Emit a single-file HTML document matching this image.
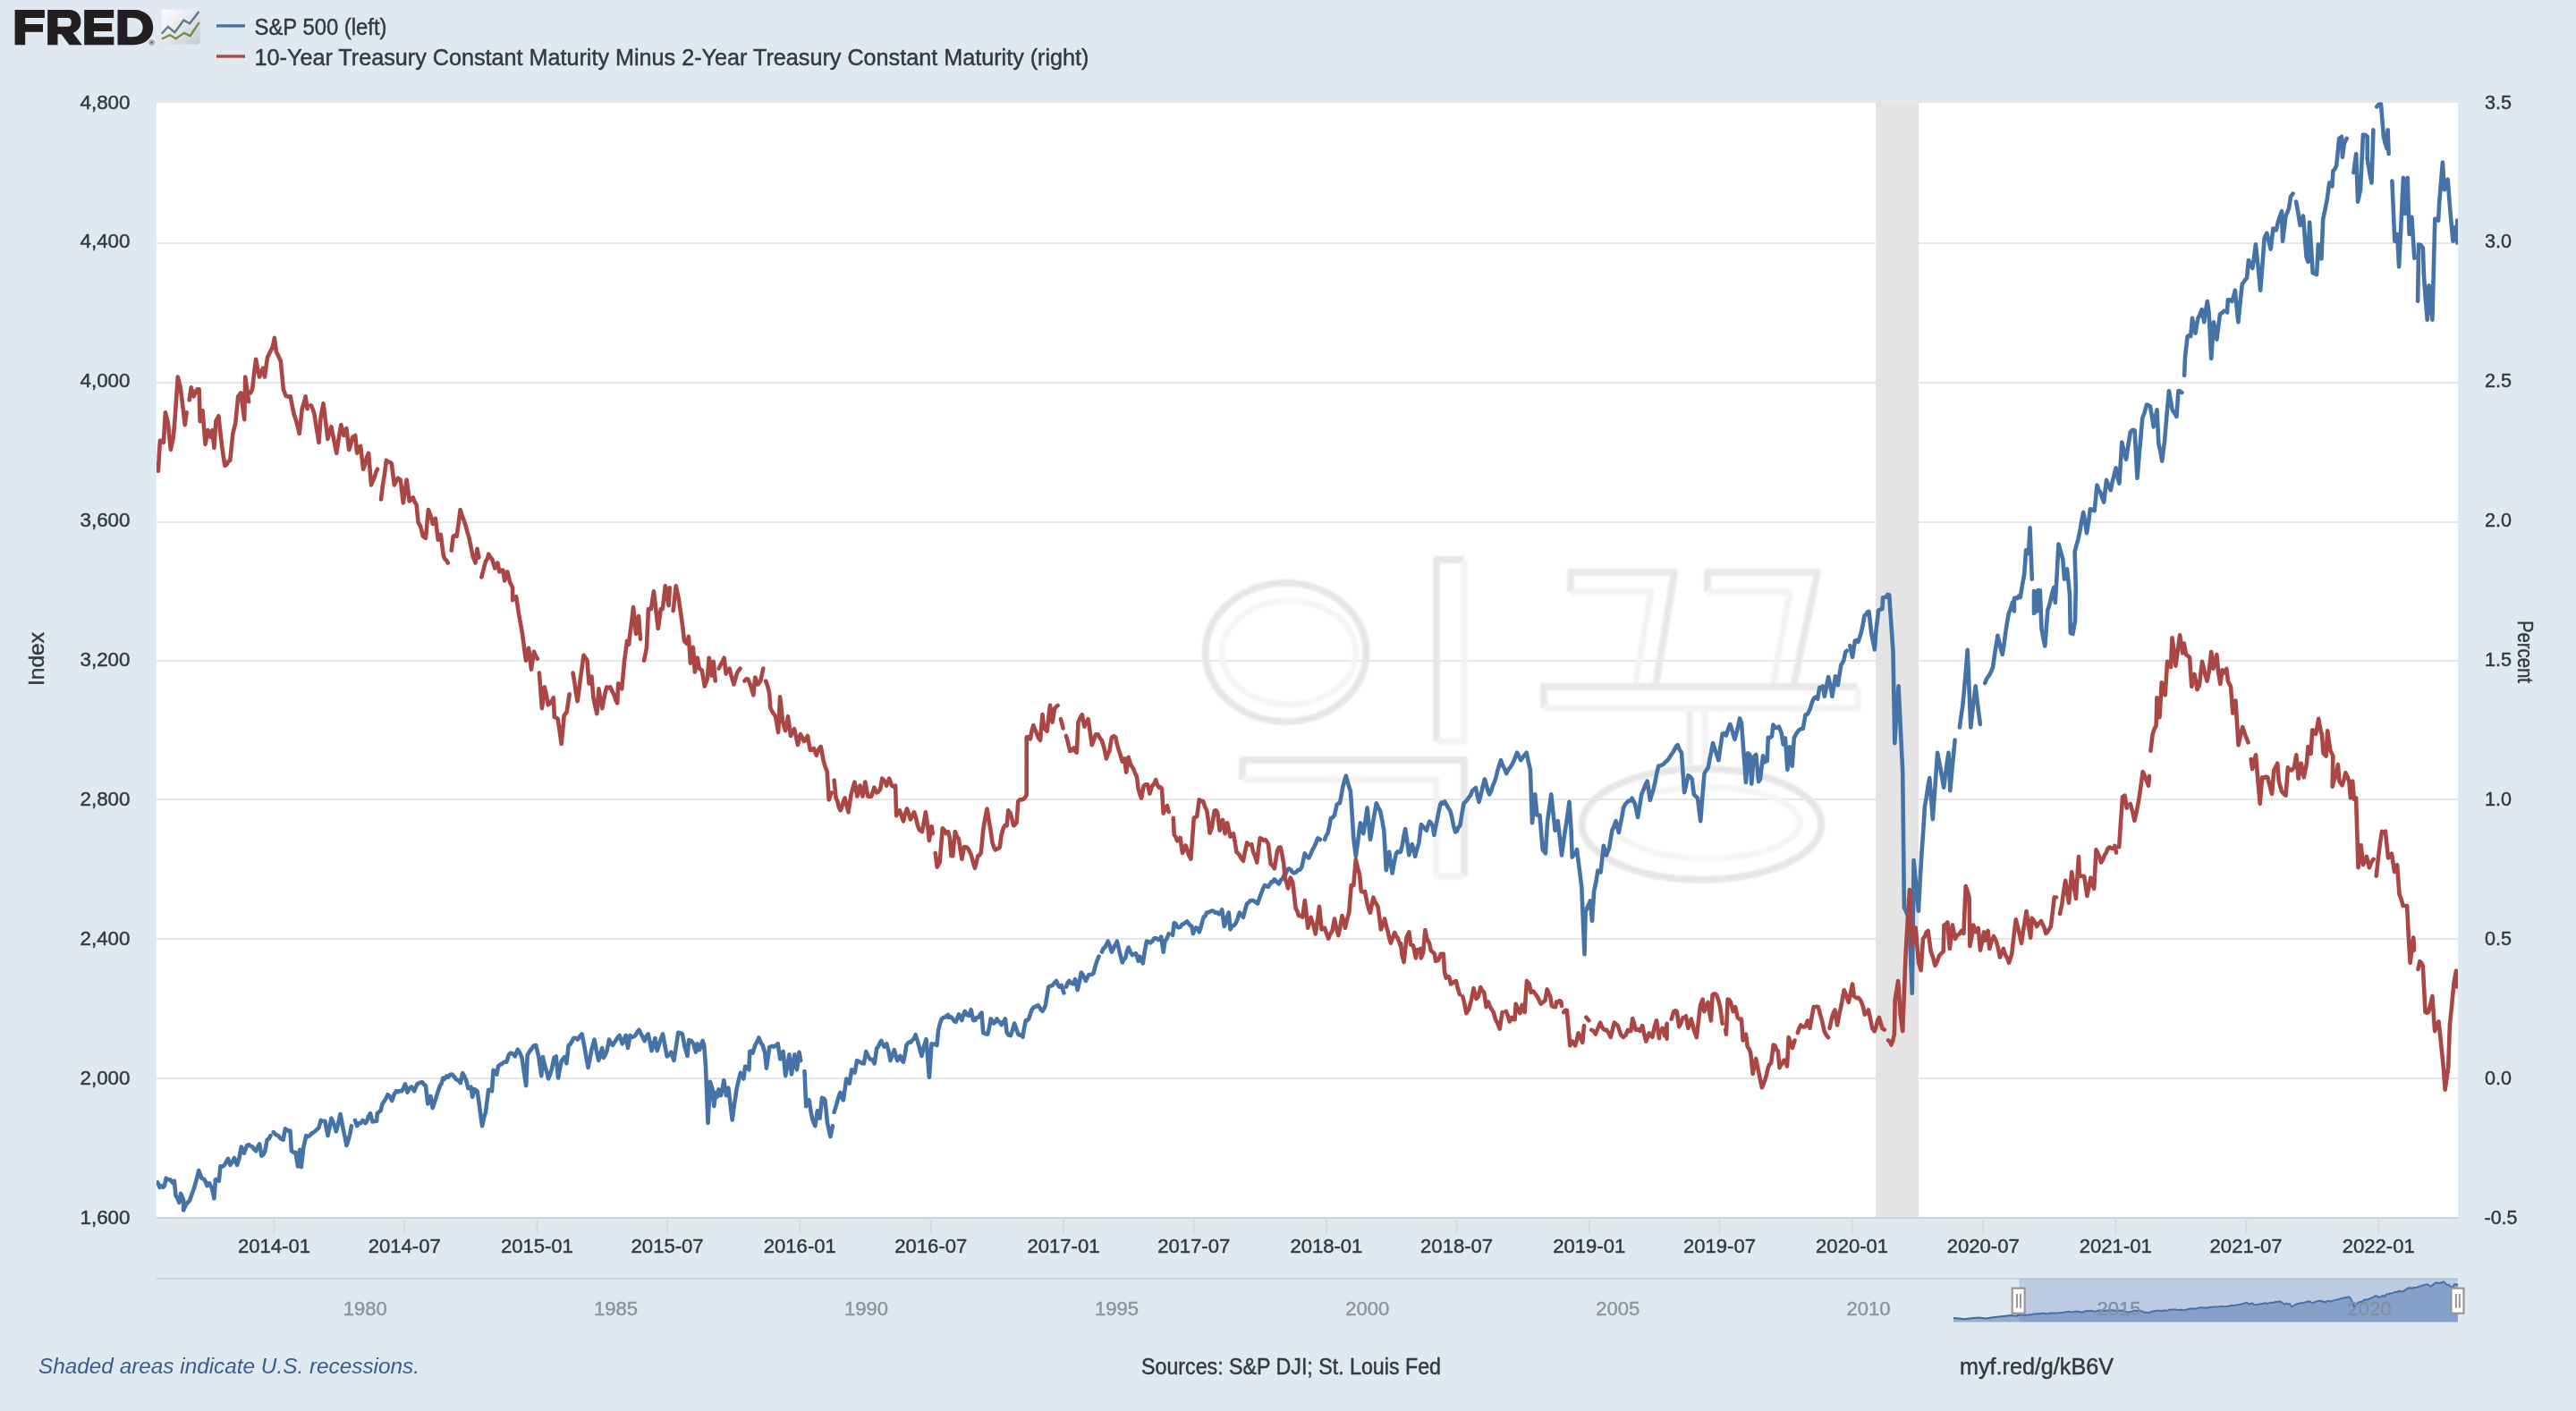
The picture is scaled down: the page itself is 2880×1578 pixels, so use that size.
<!DOCTYPE html><html><head><meta charset="utf-8"><style>html,body{margin:0;padding:0;background:#e1e9f0;width:2880px;height:1578px;overflow:hidden}svg{display:block;will-change:transform} #wrap{width:2880px;height:1578px}text{font-family:"Liberation Sans",sans-serif}</style></head><body>
<div id="wrap">
<svg width="2880" height="1578" viewBox="0 0 2880 1578">
<rect x="0" y="0" width="2880" height="1578" fill="#e1e9f0"/>
<rect x="175" y="114" width="2573" height="1248" fill="#ffffff"/>
<rect x="2097" y="114" width="48" height="1248" fill="#e4e4e4"/>
<rect x="175" y="113" width="2573" height="2" fill="#e6e6e6"/>
<rect x="175" y="271" width="2573" height="2" fill="#e6e6e6"/>
<rect x="175" y="427" width="2573" height="2" fill="#e6e6e6"/>
<rect x="175" y="583" width="2573" height="2" fill="#e6e6e6"/>
<rect x="175" y="738" width="2573" height="2" fill="#e6e6e6"/>
<rect x="175" y="893" width="2573" height="2" fill="#e6e6e6"/>
<rect x="175" y="1049" width="2573" height="2" fill="#e6e6e6"/>
<rect x="175" y="1205" width="2573" height="2" fill="#e6e6e6"/>
<defs><filter id="wmb" x="-5%" y="-5%" width="110%" height="110%"><feGaussianBlur stdDeviation="1.3"/></filter></defs>
<g fill="none" stroke-linejoin="round" filter="url(#wmb)">
<ellipse cx="1437.6" cy="729.5" rx="90" ry="77.5" stroke="#e6e6e6" stroke-width="8"/>
<ellipse cx="1441" cy="729.8" rx="75" ry="58" stroke="#f5f5f5" stroke-width="7"/>
<path d="M1606,829 V626 H1637" stroke="#e6e6e6" stroke-width="8"/>
<path d="M1637,626 V829 H1606" stroke="#f3f3f3" stroke-width="7"/>
<path d="M1389,872 V850 H1637 V980" stroke="#e8e8e8" stroke-width="8"/>
<path d="M1637,980 H1606 V872 H1389" stroke="#f3f3f3" stroke-width="7"/>
<path d="M1756,662 V640 H1872 L1851,767" stroke="#e8e8e8" stroke-width="8"/>
<path d="M1851,767 H1828 L1846,662 H1756" stroke="#f3f3f3" stroke-width="7"/>
<path d="M1909,662 V640 H2032 L2005,767" stroke="#e8e8e8" stroke-width="8"/>
<path d="M2005,767 H1982 L2001,662 H1909" stroke="#f3f3f3" stroke-width="7"/>
<path d="M1726,792 V768 H2077" stroke="#e8e8e8" stroke-width="8"/>
<path d="M2077,768 V792 H1726" stroke="#f3f3f3" stroke-width="7"/>
<path d="M1889,855 V796" stroke="#ececec" stroke-width="7"/>
<path d="M1906,796 V855" stroke="#f3f3f3" stroke-width="7"/>
<ellipse cx="1902.5" cy="921.8" rx="134" ry="62" stroke="#e6e6e6" stroke-width="8"/>
<ellipse cx="1908.4" cy="920.3" rx="104" ry="40" stroke="#f5f5f5" stroke-width="7"/>
</g>

<g clip-path="url(#pc)"><clipPath id="pc"><rect x="175" y="112" width="2573" height="1252"/></clipPath><path d="M176.2,1322.3 L178.6,1327.8 L180.4,1326.1 L182.2,1327.8 L184.0,1326.2 L185.6,1317.6 L187.9,1319.2 L190.3,1319.2 L193.4,1323.1 L194.9,1320.7 L196.5,1337.1 L198.5,1340.3 L200.4,1344.9 L202.0,1334.8 L205.1,1341.8 L205.1,1353.5 L208.2,1346.5 L210.2,1344.5 L212.1,1342.6 L214.4,1335.8 L216.8,1329.3 L218.6,1323.0 L220.4,1316.7 L222.2,1309.1 L225.4,1317.6 L227.7,1318.4 L229.6,1321.1 L231.6,1326.2 L233.9,1323.1 L237.1,1329.3 L239.4,1340.2 L240.9,1319.2 L242.9,1318.6 L244.8,1320.7 L246.4,1304.4 L248.7,1304.6 L251.1,1302.8 L253.0,1299.1 L255.0,1295.8 L257.3,1302.8 L259.7,1299.7 L262.0,1295.0 L265.1,1302.8 L267.5,1295.0 L269.8,1282.5 L272.9,1289.6 L276.0,1281.0 L278.1,1280.0 L280.2,1281.9 L282.3,1282.5 L284.2,1285.5 L286.2,1287.2 L288.1,1282.5 L290.1,1279.4 L292.4,1292.7 L294.4,1291.3 L296.3,1287.2 L298.6,1274.7 L300.6,1273.6 L302.5,1270.1 M305.7,1266.2 L308.8,1269.3 L311.1,1270.1 L313.5,1273.2 L316.6,1274.7 L318.9,1262.3 L322.0,1264.6 L324.4,1264.6 L325.9,1287.2 L328.3,1289.0 L330.6,1288.8 L333.0,1304.4 L335.3,1285.7 L336.8,1305.2 L339.2,1284.1 L342.3,1270.1 L344.3,1270.9 L346.2,1270.1 L348.5,1267.4 L350.9,1266.2 L352.7,1264.6 L354.5,1262.9 L356.3,1261.5 L358.7,1252.9 L361.0,1253.8 L363.4,1253.7 L366.5,1270.1 L368.4,1261.2 L370.4,1250.6 L372.2,1254.3 L374.0,1259.0 L375.8,1265.4 L378.2,1256.7 L380.5,1245.9 L383.6,1262.3 L385.6,1271.4 L387.5,1281.0 L389.5,1275.1 L391.4,1267.7 L393.0,1259.2 M396.9,1252.9 L399.2,1259.2 L401.3,1256.0 L403.4,1256.0 L405.5,1252.9 L408.6,1256.0 L410.4,1253.2 L412.2,1248.0 L414.0,1245.1 L416.4,1254.5 L418.7,1254.1 L421.1,1253.7 L421.8,1245.1 L423.8,1243.4 L425.7,1242.0 L427.3,1235.0 L429.4,1231.8 L431.4,1228.6 L433.5,1224.1 L435.9,1226.4 L438.2,1231.1 L440.5,1224.2 L442.9,1220.2 L445.0,1221.2 L447.0,1220.0 L449.1,1220.2 L451.1,1217.1 L453.0,1212.4 L455.4,1221.7 L457.7,1217.1 L460.0,1215.5 L463.2,1220.2 L466.3,1212.4 L468.1,1211.4 L470.0,1210.8 L472.0,1210.2 L474.0,1212.8 L475.9,1214.1 L478.3,1234.4 L481.4,1225.8 L483.7,1239.1 L486.8,1229.7 L489.9,1220.3 L491.8,1214.6 L493.6,1211.8 L495.4,1205.5 L497.2,1206.5 L499.0,1203.6 L500.9,1204.7 L503.2,1201.8 L505.5,1201.6 L507.6,1203.8 L509.7,1207.1 L511.8,1207.9 L514.9,1211.0 L517.2,1200.1 L519.2,1203.6 L521.1,1207.9 L523.5,1217.2 L526.6,1215.7 L528.2,1226.6 L530.5,1218.0 L533.6,1220.3 L535.4,1232.5 L537.2,1246.1 L539.1,1259.3 L541.0,1250.1 L543.0,1243.7 L546.1,1218.8 L548.0,1218.7 L550.0,1220.3 L551.5,1196.9 L553.5,1199.1 L555.4,1201.6 L557.0,1192.3 L559.3,1190.7 L561.7,1189.2 L564.0,1187.6 L566.4,1187.6 L568.7,1179.8 L571.0,1177.5 L573.4,1178.6 L575.7,1181.4 L578.8,1173.6 L581.2,1177.4 L583.5,1182.9 L585.8,1198.4 L588.2,1214.1 L589.7,1179.8 L592.1,1175.7 L594.4,1172.8 L596.8,1169.4 L599.1,1168.9 L602.2,1181.4 L605.3,1203.2 L606.9,1182.1 L609.0,1191.2 L611.1,1198.4 L613.1,1206.3 L615.1,1201.3 L617.0,1195.4 L619.4,1182.9 L621.7,1181.4 L624.1,1205.5 L626.0,1194.8 L628.0,1186.0 L631.1,1182.1 L633.4,1189.2 L635.7,1168.9 L637.6,1167.8 L639.4,1164.8 L641.2,1161.1 L643.5,1160.7 L645.9,1162.6 L648.2,1159.0 L650.6,1156.4 L653.7,1172.0 L655.6,1183.6 L657.6,1193.8 L659.5,1184.3 L661.5,1173.6 L664.6,1162.6 L666.9,1175.6 L669.3,1186.0 L671.2,1178.8 L673.2,1172.0 L674.7,1182.9 L676.7,1180.0 L678.6,1175.1 L681.0,1162.6 L682.9,1166.3 L684.9,1168.9 L688.0,1164.2 L690.3,1160.5 L692.7,1158.0 L695.8,1167.3 L697.7,1162.9 L699.7,1158.0 L702.0,1172.0 L704.4,1158.0 L706.3,1159.9 L708.3,1159.5 L710.3,1158.0 L712.4,1154.3 L714.5,1151.7 L716.4,1155.9 L718.4,1159.5 L720.7,1164.2 L722.7,1158.9 L724.6,1156.4 L726.6,1165.0 L728.5,1175.1 L730.5,1169.0 L732.4,1161.1 L734.8,1175.1 L736.8,1168.6 L738.9,1161.7 L741.0,1156.4 L743.3,1169.0 L745.7,1181.4 L748.0,1179.6 L750.4,1176.7 L753.5,1186.0 L755.8,1171.0 L758.2,1154.8 L760.5,1155.3 L762.8,1156.4 L765.0,1167.3 L765.1,1169.0 L766.8,1174.8 L768.5,1181.0 L770.2,1163.1 L772.8,1163.9 L775.3,1167.3 L777.9,1176.7 L779.6,1167.3 L782.1,1174.1 L783.8,1169.1 L785.5,1163.9 L787.2,1169.0 L788.9,1191.2 L791.5,1255.8 L794.0,1209.9 L796.6,1218.4 L798.3,1237.1 L800.0,1221.8 L801.7,1226.9 L803.4,1218.4 L805.9,1225.2 L807.6,1217.5 L809.3,1208.2 L811.9,1225.2 L814.4,1216.7 L816.5,1234.6 L818.7,1252.4 L821.2,1233.7 L823.8,1216.7 L825.9,1207.8 L828.0,1199.7 L829.7,1203.0 L831.4,1206.5 L833.1,1192.9 L835.3,1193.1 L837.4,1196.3 L838.2,1175.9 L839.9,1175.3 L841.6,1177.6 L844.2,1169.0 L846.3,1165.4 L848.4,1160.5 L850.6,1166.2 L852.7,1169.0 L855.2,1177.6 L856.9,1194.6 L858.6,1182.9 L860.3,1170.7 L862.0,1170.4 L863.7,1169.8 L865.4,1170.7 L867.6,1169.1 L869.7,1167.3 L872.2,1184.4 L873.9,1181.5 L875.6,1175.9 L878.2,1203.1 L880.3,1192.0 L882.4,1179.3 L885.0,1201.4 L886.7,1190.4 L888.4,1179.3 L891.0,1196.3 L893.5,1176.7 L895.2,1186.1 M899.5,1198.0 L901.2,1237.1 L902.9,1232.6 L904.6,1230.3 L906.3,1241.5 L908.0,1250.7 L909.7,1255.7 L911.4,1259.2 L913.9,1242.2 L916.5,1250.7 L919.0,1227.7 L920.7,1228.3 L922.4,1230.3 L925.0,1255.8 L926.7,1263.4 L928.4,1271.1 L930.9,1259.2 M932.6,1243.9 L935.2,1235.4 L937.3,1227.5 L939.4,1221.8 L941.1,1227.1 L942.8,1230.3 L944.5,1219.2 L946.2,1206.5 L947.9,1208.3 L949.6,1211.6 L952.2,1196.3 L953.9,1197.9 L955.6,1199.7 L958.1,1186.1 L959.8,1186.8 L961.5,1187.8 L963.7,1189.1 L965.8,1189.5 L968.3,1175.9 L970.5,1181.0 L972.6,1184.4 L974.3,1184.8 L976.0,1186.3 L977.7,1189.5 L980.2,1172.4 L981.9,1170.6 L983.6,1166.6 L985.3,1163.9 L987.0,1168.1 L988.7,1170.7 L991.3,1167.3 L993.4,1175.2 L995.5,1186.1 L997.7,1179.9 L999.8,1174.1 L1001.5,1180.8 L1003.2,1186.1 L1004.9,1182.7 L1006.6,1181.0 L1008.3,1185.7 L1010.0,1187.8 L1011.7,1179.6 L1013.4,1169.0 L1015.1,1166.5 L1016.8,1165.4 L1018.5,1165.6 L1020.2,1162.9 L1021.9,1161.3 L1023.6,1157.1 L1025.3,1162.7 L1027.0,1168.2 L1028.7,1174.8 L1030.4,1181.0 L1032.1,1173.3 L1033.8,1167.6 L1035.5,1162.2 L1037.2,1183.3 L1038.9,1204.8 L1041.5,1167.3 L1043.4,1167.9 L1045.4,1167.7 L1047.4,1169.0 L1049.1,1152.0 L1050.8,1145.3 L1052.5,1140.1 L1054.2,1138.2 L1055.9,1137.7 L1057.6,1136.7 L1060.0,1135.0 L1060.1,1137.7 L1061.8,1137.6 L1063.5,1137.4 L1065.2,1139.4 L1066.9,1142.1 L1068.6,1142.8 L1070.3,1138.7 L1072.0,1134.3 L1073.7,1138.1 L1075.4,1141.1 L1077.1,1135.0 L1078.8,1130.9 L1080.9,1134.9 L1083.1,1136.0 L1085.6,1129.2 L1088.2,1141.1 L1090.1,1141.0 L1092.1,1137.7 L1094.1,1137.7 L1095.8,1134.6 L1097.5,1132.6 L1099.2,1154.7 L1100.9,1155.9 L1102.6,1156.5 L1104.3,1156.4 L1106.0,1149.2 L1107.7,1139.4 L1109.4,1141.7 L1111.1,1144.5 L1112.8,1142.9 L1114.5,1139.4 L1116.2,1142.2 L1117.9,1143.3 L1119.6,1146.2 L1121.8,1143.1 L1123.9,1139.4 L1125.6,1154.7 L1127.7,1157.5 L1129.8,1158.1 L1132.0,1152.3 L1134.1,1144.5 L1136.2,1150.5 L1138.3,1156.4 L1140.0,1157.8 L1141.7,1157.3 L1143.4,1159.8 L1145.1,1149.7 L1146.8,1141.1 L1148.5,1141.1 L1150.2,1139.4 L1151.9,1134.0 L1153.6,1129.2 L1155.8,1126.5 L1157.9,1125.8 L1160.4,1124.1 L1162.1,1126.5 L1163.8,1129.2 L1165.5,1130.9 L1167.2,1128.0 L1168.9,1124.1 L1170.6,1113.5 L1172.3,1103.7 L1174.5,1102.6 L1176.6,1102.0 L1178.7,1099.4 L1180.9,1096.9 L1182.6,1101.1 L1184.3,1103.7 L1186.8,1102.0 L1189.4,1110.5 M1191.9,1103.7 L1193.6,1099.2 L1195.3,1096.9 L1197.4,1099.6 L1199.6,1100.3 L1202.1,1095.2 L1204.7,1107.1 L1206.8,1098.1 L1208.9,1087.5 L1210.6,1089.9 L1212.3,1093.7 L1214.0,1096.9 L1215.7,1093.3 L1217.4,1090.1 L1219.1,1090.0 L1220.8,1089.8 L1222.5,1088.4 L1224.5,1080.9 L1226.5,1074.5 L1228.5,1069.7 M1231.9,1064.6 L1233.6,1060.5 L1235.3,1059.6 L1237.0,1056.4 L1238.7,1052.7 L1240.8,1057.9 L1242.9,1064.6 L1244.9,1060.6 L1246.9,1056.5 L1248.9,1052.7 L1250.9,1061.0 L1252.8,1069.4 L1254.8,1076.5 L1256.5,1072.7 L1258.2,1071.4 L1259.9,1064.0 L1261.6,1059.5 L1263.8,1064.7 L1265.9,1068.0 L1268.0,1066.9 L1270.1,1066.3 L1272.7,1074.8 L1274.4,1069.7 L1276.1,1074.3 L1277.8,1077.3 L1279.9,1063.5 L1282.0,1052.7 L1284.2,1053.3 L1286.3,1054.4 L1288.4,1052.5 L1290.5,1049.3 L1292.7,1049.3 L1294.8,1051.0 L1296.5,1050.6 L1298.2,1047.6 L1300.7,1064.6 L1302.4,1052.7 L1304.6,1049.6 L1306.7,1044.1 M1311.0,1045.9 L1312.7,1032.2 L1314.4,1032.8 L1316.1,1036.7 L1317.8,1037.3 L1319.6,1036.8 L1321.5,1033.9 L1323.4,1033.3 L1325.2,1031.8 L1327.1,1030.5 L1328.8,1032.7 L1330.5,1034.8 L1332.2,1035.6 L1333.9,1044.1 L1335.6,1039.5 L1337.3,1037.3 L1339.0,1038.5 L1340.7,1042.4 L1342.4,1037.8 L1344.1,1030.9 L1345.8,1025.4 L1347.5,1024.5 L1349.2,1020.5 L1350.9,1020.3 L1353.0,1019.3 L1355.0,1018.6 L1356.8,1019.0 L1358.8,1020.8 L1360.8,1020.4 L1362.8,1022.4 L1364.5,1021.2 L1366.2,1017.3 L1368.7,1036.0 L1370.4,1032.1 L1372.1,1024.4 L1373.8,1020.7 L1375.5,1039.4 L1377.5,1035.7 L1379.5,1035.0 L1381.5,1032.6 L1383.6,1028.0 L1385.7,1020.7 L1387.8,1022.9 L1390.0,1025.8 L1392.1,1017.3 L1394.2,1010.5 L1395.9,1009.4 L1397.6,1007.4 L1399.3,1007.1 L1401.0,1007.1 L1402.7,1008.0 L1404.4,1009.3 L1406.1,1010.5 L1408.0,1004.6 L1409.9,999.5 L1411.9,994.3 L1413.8,990.1 L1415.9,990.8 L1418.0,991.8 L1419.7,989.0 L1421.4,986.1 L1423.1,986.4 L1424.8,983.3 L1426.5,985.1 L1428.2,987.1 L1429.9,988.4 L1431.9,984.0 L1433.9,983.0 L1435.9,978.2 L1437.6,977.0 L1439.3,972.5 L1441.0,971.4 L1443.0,972.6 L1445.0,975.4 L1446.9,976.5 L1449.1,975.4 L1451.2,973.1 L1453.3,972.7 L1455.4,969.7 L1457.1,961.8 L1458.8,954.4 L1461.0,957.9 L1463.1,959.5 L1465.1,956.0 L1467.1,950.9 L1469.0,947.6 L1471.2,942.7 L1473.3,937.3 L1475.9,939.0 M1481.0,939.0 L1482.7,934.5 L1484.4,932.2 L1486.1,924.8 L1487.8,915.2 L1489.9,914.3 L1492.0,911.8 L1494.6,899.9 L1496.3,898.3 L1498.0,898.2 L1499.7,888.9 L1501.4,879.5 L1503.1,873.4 L1504.8,867.6 L1506.5,873.7 L1508.2,879.8 L1509.9,884.6 L1511.6,909.8 L1513.3,937.3 L1515.8,957.8 L1518.4,939.0 L1520.9,920.3 L1522.6,924.9 L1524.3,932.2 L1526.4,918.8 L1528.6,903.3 L1530.3,921.0 L1532.0,939.0 L1533.7,929.6 L1535.4,917.1 L1537.1,908.3 L1538.8,898.2 L1540.9,903.1 L1543.0,906.7 L1545.2,917.0 L1547.3,928.8 L1549.8,973.1 L1551.5,964.2 L1553.2,952.7 L1554.9,965.8 L1556.6,976.5 L1558.8,964.0 L1560.9,954.4 L1562.6,952.4 L1564.3,953.3 L1566.0,952.7 L1567.7,945.5 L1569.4,935.3 L1571.1,927.1 L1573.2,940.7 L1575.3,956.1 L1577.0,949.9 L1578.7,944.1 L1580.4,949.5 L1582.1,957.8 L1584.3,949.3 L1586.4,942.4 L1588.9,922.0 L1590.9,924.1 L1592.9,926.6 L1594.9,928.8 L1596.6,922.9 L1598.3,918.6 L1600.0,920.4 L1601.7,923.7 L1603.4,933.9 L1605.1,924.6 L1606.8,916.8 L1608.5,907.8 L1610.2,899.9 L1611.9,897.4 L1613.6,898.7 L1615.3,896.5 L1617.3,900.1 L1619.3,903.8 L1621.3,906.7 L1623.2,913.7 L1625.2,924.1 L1627.2,930.5 L1628.9,929.4 L1630.6,924.9 L1632.3,923.7 L1634.4,910.5 L1636.6,898.2 L1638.5,896.6 L1640.5,894.3 L1642.5,891.4 L1644.2,889.3 L1645.9,884.6 L1648.0,882.7 L1650.0,881.2 L1651.8,890.1 L1653.5,896.9 L1655.6,889.0 L1657.8,879.3 L1659.9,871.4 L1661.7,877.4 L1663.4,883.9 L1665.2,888.4 L1667.1,884.7 L1668.9,878.9 L1670.8,874.4 L1672.6,869.3 L1674.4,861.5 L1676.2,855.8 L1678.0,850.2 L1680.1,856.0 L1682.2,859.8 L1684.3,865.1 L1686.5,860.5 L1688.6,858.1 L1690.7,854.4 L1692.5,850.8 L1694.3,846.4 L1696.0,841.7 L1698.2,845.5 L1700.3,850.2 L1702.4,847.1 L1704.5,844.5 L1706.7,841.7 L1708.8,852.1 L1710.9,860.8 L1713.0,920.3 L1716.2,888.4 L1718.4,911.8 L1721.5,911.8 L1724.7,950.1 L1727.9,954.4 L1730.1,918.2 L1732.2,903.4 L1734.3,888.4 L1736.4,908.3 L1738.6,928.8 L1741.7,918.2 L1743.9,937.3 L1746.0,956.5 L1747.8,943.0 L1749.5,931.0 L1751.3,920.3 L1754.5,896.9 L1756.6,928.8 L1757.7,958.6 L1759.5,956.4 L1761.2,954.4 L1763.0,950.1 L1764.8,964.6 L1766.6,978.1 L1768.3,992.6 L1771.5,1067.1 L1772.6,1020.3 L1774.4,1015.0 L1776.1,1011.8 L1777.9,1007.5 L1780.0,1029.8 L1782.1,996.9 L1784.3,986.6 L1786.4,973.5 L1789.6,975.6 L1792.8,945.9 L1796.0,956.5 L1799.2,948.0 L1802.3,928.8 L1804.5,924.3 L1806.6,918.2 L1809.8,931.0 L1811.6,921.9 L1813.3,913.6 L1815.1,903.3 L1817.2,899.3 L1819.4,896.9 L1821.1,895.6 L1822.9,895.5 L1824.7,892.7 L1827.9,899.1 L1831.1,914.0 L1833.2,901.4 L1835.3,888.4 L1837.4,883.4 L1839.6,877.8 L1841.7,873.6 L1844.9,894.8 L1846.6,888.6 L1848.4,883.4 L1850.2,875.7 L1852.3,864.6 L1854.4,856.5 L1856.3,856.3 L1858.2,855.4 L1860.0,854.5 L1861.9,852.3 L1863.7,850.9 L1865.4,849.0 L1867.2,845.9 L1868.9,843.4 L1870.6,841.0 L1872.3,838.0 L1874.0,834.4 L1875.7,833.2 L1877.8,838.5 L1880.0,841.7 L1883.1,886.3 L1885.3,877.0 L1887.4,867.2 L1889.5,868.4 L1891.7,871.4 L1893.8,888.4 L1895.9,890.6 L1898.0,892.7 L1901.2,918.2 L1903.3,891.6 L1905.5,865.1 L1907.6,861.4 L1909.7,858.7 L1911.5,849.0 L1913.3,840.4 L1915.0,831.0 L1917.2,837.8 L1919.3,844.1 L1921.4,850.2 L1923.5,835.2 L1925.7,820.4 L1927.8,820.0 L1929.9,822.5 L1932.1,815.3 L1934.2,809.8 L1935.9,814.5 L1937.7,821.4 L1939.5,826.8 L1941.3,820.1 L1943.2,812.1 L1945.0,803.4 L1947.0,808.4 L1949.8,846.7 L1952.0,875.0 L1954.1,842.4 L1956.2,843.9 L1958.3,876.5 L1960.5,846.7 L1963.3,843.9 L1966.1,874.3 L1967.9,871.5 L1971.1,845.3 L1972.5,852.4 L1975.7,850.9 L1976.8,824.7 L1978.9,824.9 L1981.0,823.3 L1982.4,810.6 L1984.2,813.3 L1986.0,814.1 L1988.8,812.7 L1991.7,819.8 L1993.8,832.5 L1995.9,825.4 L1998.4,860.9 L2000.9,835.4 L2003.7,856.6 L2005.8,825.4 L2008.7,819.8 L2010.8,816.9 L2012.9,815.5 L2015.8,814.8 L2018.6,799.2 L2020.4,798.8 L2022.1,796.4 L2023.7,792.9 L2025.4,787.1 L2027.0,782.8 L2028.6,780.2 L2030.4,779.5 L2032.1,781.7 L2034.3,768.9 L2036.0,769.0 L2037.8,767.5 L2039.9,778.8 L2042.1,767.1 L2044.2,756.9 L2046.3,766.7 L2048.4,778.8 L2050.2,767.9 L2052.0,756.2 L2054.8,766.1 L2056.6,754.3 L2058.4,743.4 L2061.2,739.1 L2063.3,729.2 L2064.7,727.8 M2068.3,722.1 L2071.1,734.9 L2073.9,716.5 L2075.7,716.1 L2077.5,717.9 L2080.3,709.4 L2082.5,699.8 L2084.6,688.1 L2086.2,687.5 L2087.9,684.5 L2089.5,683.9 L2092.4,709.4 L2094.1,717.9 L2095.9,726.4 L2097.3,706.5 L2100.2,682.4 L2102.3,681.6 L2104.4,681.0 L2105.1,668.3 L2106.9,668.0 L2108.7,667.7 L2110.4,664.9 L2112.2,665.4 L2113.6,686.7 L2116.5,728.5 L2118.3,831.2 L2120.4,797.9 L2122.6,767.4 L2124.9,816.2 L2127.2,863.0 L2128.9,1015.2 L2130.7,1018.6 L2132.5,1023.1 L2134.2,1025.8 L2136.0,1066.8 L2137.8,1110.8 L2139.6,962.1 L2141.3,980.8 L2143.1,1000.5 L2144.9,1018.8 L2146.6,986.1 L2148.4,955.0 L2150.2,929.8 L2151.9,901.9 L2153.7,892.5 L2155.5,879.3 L2157.3,870.1 L2159.0,891.7 L2160.8,916.1 L2162.6,891.5 L2164.3,867.9 L2166.1,841.8 L2167.9,851.1 L2169.6,860.4 L2171.4,870.7 L2173.2,880.7 L2175.0,866.3 L2176.7,853.9 L2178.5,841.8 L2180.3,884.2 L2182.0,865.2 L2183.8,846.5 L2185.6,827.6 M2190.9,813.5 L2192.7,800.0 L2194.4,788.7 L2196.2,769.1 L2198.0,748.2 L2199.7,726.7 L2201.5,769.4 L2203.3,813.5 L2205.0,798.1 L2206.8,782.6 L2208.6,767.4 L2210.4,782.0 L2212.1,796.6 L2213.9,809.9 M2219.2,763.9 L2221.0,759.3 L2222.7,756.8 L2224.5,754.3 L2226.3,750.5 L2228.1,746.2 L2229.8,733.7 L2231.6,722.6 L2233.4,710.8 L2235.1,717.7 L2236.9,725.4 L2238.7,732.0 L2240.4,721.4 L2242.2,707.8 L2244.0,696.1 L2245.8,686.0 L2247.9,680.8 L2250.0,673.6 L2251.9,683.4 L2251.9,668.9 L2253.6,668.5 L2255.3,669.2 L2257.0,666.7 L2258.7,668.0 L2260.9,654.8 L2263.2,642.0 L2265.1,615.2 L2268.0,619.0 L2269.5,590.3 L2271.8,647.7 M2274.0,661.0 L2274.0,686.0 L2275.7,683.6 L2277.4,683.4 L2278.3,660.4 L2280.8,660.4 L2282.5,703.0 L2284.4,713.8 L2286.3,722.5 L2289.3,682.5 L2291.0,677.3 L2292.7,670.6 L2294.4,663.1 L2296.1,657.0 L2297.8,674.0 L2299.7,641.2 L2301.5,608.5 L2303.8,616.5 L2306.2,624.8 L2308.0,647.7 L2311.0,636.3 L2314.0,664.7 L2314.8,708.0 L2317.4,708.9 L2320.0,694.4 L2320.8,657.0 L2319.6,617.0 L2321.5,609.8 L2323.5,602.5 L2325.4,594.0 L2327.3,582.3 L2329.2,573.1 L2331.1,583.2 L2333.0,596.1 L2335.0,583.7 L2336.9,569.3 L2339.3,570.0 L2341.7,571.2 L2344.5,542.5 L2346.4,548.1 L2348.3,550.6 L2350.3,556.7 L2352.2,561.6 L2355.0,536.7 L2357.4,543.2 L2359.8,548.2 L2361.7,538.8 L2363.7,531.0 L2365.6,523.3 L2367.5,533.3 L2369.4,540.6 L2372.3,494.6 L2374.7,505.4 L2377.1,513.8 L2379.0,500.4 L2381.8,483.2 L2384.2,480.8 L2386.6,481.2 L2389.5,534.8 L2391.4,511.1 L2393.3,490.3 L2395.2,467.8 L2397.6,461.5 L2400.0,452.5 L2401.9,453.1 L2403.9,454.4 L2405.8,465.1 L2407.7,477.4 L2409.6,467.6 L2411.5,458.3 L2413.4,496.6 L2415.3,504.7 L2417.2,515.7 L2420.1,492.7 L2422.5,464.1 L2424.9,437.2 L2426.8,447.6 L2428.7,458.3 L2431.1,462.1 L2433.5,465.9 L2435.4,437.2 L2437.3,437.4 L2439.3,439.1 M2442.1,420.0 L2443.0,399.2 L2445.6,376.1 L2447.4,375.0 L2449.2,376.1 L2451.0,355.8 L2452.7,365.2 L2454.5,372.6 L2457.2,356.6 L2459.4,352.1 L2461.6,346.0 L2464.3,360.2 L2466.0,347.9 L2467.8,337.1 L2469.6,349.5 L2472.2,401.0 L2474.9,360.2 L2476.7,369.9 L2478.4,379.7 L2480.2,365.3 L2482.0,351.3 L2484.2,350.0 L2486.4,347.8 M2490.0,349.5 L2490.8,335.4 L2493.1,335.2 L2495.3,337.1 L2497.0,332.0 L2498.8,324.7 L2500.6,343.2 L2502.4,360.2 L2504.6,338.2 L2506.8,317.6 L2508.6,315.3 L2510.3,312.8 L2512.1,310.5 L2513.9,291.0 L2516.1,295.9 L2518.3,299.9 L2520.1,287.5 L2521.9,273.3 L2523.6,289.2 L2525.4,306.2 L2527.2,324.7 L2529.4,296.5 L2531.6,266.2 L2534.3,260.9 L2536.5,269.6 L2538.7,278.6 L2541.4,255.6 L2543.1,257.3 L2544.9,257.4 L2546.7,248.8 L2548.5,243.2 L2551.1,236.1 L2552.0,269.8 L2553.8,255.4 L2555.5,241.4 L2557.3,237.6 L2559.1,232.5 L2560.9,220.1 L2563.5,216.6 M2567.1,225.5 L2569.3,237.7 L2571.5,252.0 L2573.3,247.8 L2575.0,241.4 L2576.8,265.2 L2578.6,287.5 L2580.4,292.8 L2582.1,248.5 L2583.9,276.1 L2585.7,305.2 L2587.9,306.1 L2590.1,307.0 L2591.9,273.3 L2593.7,281.1 L2595.4,289.3 L2597.2,245.0 L2599.4,234.8 L2601.6,223.7 L2604.3,204.2 L2607.4,208.3 L2608.4,191.1 L2610.3,189.1 L2612.2,185.4 L2615.1,154.8 L2618.0,152.8 L2618.9,175.8 L2620.8,160.5 L2623.7,154.8 M2631.4,193.0 L2634.2,172.0 L2636.1,225.6 L2639.0,212.2 L2641.9,150.9 L2644.3,150.8 L2646.7,152.8 L2646.7,177.7 L2649.1,192.2 L2651.5,204.5 L2653.4,145.2 M2657.2,119.4 L2659.6,116.8 L2662.0,116.5 L2662.9,128.0 L2664.9,152.8 L2666.8,160.6 L2668.7,166.2 L2669.6,145.2 L2670.6,172.0 M2674.4,202.6 L2677.3,269.6 L2680.2,261.9 L2682.1,298.3 L2685.0,239.0 L2686.9,198.8 L2688.8,239.0 L2691.7,198.8 L2693.6,261.9 L2696.4,242.8 L2699.3,288.7 M2703.1,336.6 L2704.1,273.4 L2706.5,274.2 L2708.9,277.2 L2709.8,306.0 L2711.7,332.8 L2713.7,357.6 L2715.6,319.4 L2717.5,339.3 L2719.4,357.6 L2722.3,244.7 L2724.2,244.9 L2726.1,246.6 L2727.1,227.5 L2729.0,204.5 L2730.9,181.6 L2732.8,212.2 L2734.7,206.3 L2736.6,200.7 L2739.5,237.1 L2742.4,269.6 L2744.3,254.3 L2747.2,271.5 L2747.2,246.6" fill="none" stroke="#4572a7" stroke-width="4.6" stroke-linejoin="round" stroke-linecap="round"/><path d="M176.9,526.7 L178.9,492.9 L180.9,492.8 L182.9,494.9 L184.9,461.2 L187.9,473.1 L190.8,502.9 L193.8,489.0 L195.8,465.2 L198.8,421.5 L201.7,433.4 L204.7,457.2 L206.7,475.1 L208.7,461.2 M211.7,447.3 L213.7,433.4 L216.6,443.3 L218.6,438.3 L220.6,435.4 L222.6,435.4 L223.6,471.1 L226.5,459.2 L229.5,496.9 L232.5,481.0 L235.5,489.0 L237.5,481.0 L239.4,500.9 L241.4,471.1 L244.4,465.2 L246.4,484.1 L248.4,500.9 L251.3,520.7 L253.3,519.5 L255.3,516.0 L257.3,514.8 L260.3,485.0 L263.3,473.1 L266.2,443.3 L269.2,439.4 L271.2,454.2 L273.2,469.1 L274.2,421.5 L276.2,435.2 L278.1,449.3 M280.1,439.4 L282.1,435.4 L284.1,417.4 L286.1,401.7 L288.1,412.6 L290.0,421.5 L292.0,417.3 L294.0,411.6 L296.0,421.5 L299.0,399.7 L301.9,393.7 L304.9,387.8 L306.9,377.9 L308.9,393.7 L310.5,396.3 L312.2,400.3 L313.8,403.7 L316.8,435.4 L319.8,443.3 L321.5,443.2 L323.1,443.8 L324.8,443.3 L326.7,454.1 L328.7,463.2 L330.7,469.2 L332.7,476.3 L334.7,485.0 L337.7,457.2 L339.6,451.3 L341.6,443.3 L343.6,457.2 M347.6,453.3 L349.6,457.1 L351.5,463.2 L353.2,474.8 L354.9,485.1 L356.5,494.9 L358.5,467.1 L361.5,451.3 L363.1,463.8 L364.8,477.7 L366.4,491.0 L368.4,483.9 L370.4,477.1 L372.4,487.4 L374.4,497.8 L376.3,506.8 L378.0,495.0 L379.7,484.2 L381.3,475.1 L384.3,487.0 L387.3,479.0 L390.2,502.9 L392.2,496.9 L394.2,489.0 L397.2,487.0 L399.2,506.8 L401.2,502.7 L403.1,498.9 L406.1,524.7 L408.1,519.5 L410.1,511.3 L412.1,506.8 L415.0,542.5 L416.8,537.9 L418.5,534.3 L420.2,528.3 L422.0,524.7 M426.0,558.4 L427.9,542.8 L429.9,530.4 L431.9,514.8 L433.9,516.9 L435.9,516.7 L437.9,518.7 L440.8,542.5 L442.8,538.6 L444.8,534.6 L447.8,536.6 L450.8,562.4 L452.7,549.3 L454.7,536.6 L457.7,560.4 L459.7,558.9 L461.7,556.4 L463.7,561.3 L465.6,564.4 L467.6,584.2 L470.0,588.2 L472.9,599.8 L475.9,601.7 L478.9,570.0 L480.5,574.1 L482.2,579.2 L483.8,585.9 L486.8,579.9 L489.8,603.7 L492.8,597.8 L495.8,621.6 L497.4,625.2 L499.1,626.7 L500.7,629.5 M504.7,615.6 L506.7,599.8 L508.7,598.7 L510.6,599.8 L512.6,585.9 L514.6,570.0 L516.6,576.7 L518.6,581.9 L520.6,587.8 L522.5,595.1 L524.5,601.7 L526.5,611.5 L528.5,621.6 L531.5,629.5 L533.5,613.7 L535.4,623.6 M538.4,645.4 L541.4,633.5 L543.0,627.8 L544.7,625.3 L546.3,619.6 L548.3,623.4 L550.3,625.6 L553.3,635.5 L556.3,629.5 L558.3,639.4 L560.2,637.7 L562.2,637.5 L564.2,649.4 L567.2,639.4 L570.2,651.3 L573.1,657.3 L573.1,671.2 L575.1,669.2 L577.1,667.2 L580.1,687.1 L582.1,697.8 L584.0,708.9 L586.0,724.2 L588.0,738.7 L591.0,724.8 L594.0,748.6 L596.9,728.7 L598.9,733.6 L600.9,736.7 M602.9,752.5 L605.9,792.2 L608.8,768.4 L610.8,777.2 L612.8,788.3 L614.8,786.7 L616.8,783.8 L618.8,780.3 L619.8,802.1 L621.7,802.4 L623.7,804.1 L625.7,818.0 L627.7,831.9 L630.7,800.2 L633.7,796.2 L636.6,776.3 M640.6,752.5 L642.2,762.0 L643.9,774.7 L645.6,784.3 L647.3,772.2 L649.0,757.8 L650.8,745.6 L652.5,732.7 L654.5,735.5 L656.5,738.7 L658.5,764.4 L661.4,756.5 L663.4,780.3 L665.4,789.7 L667.4,798.2 L669.4,770.4 L671.3,782.2 L673.3,792.2 L675.0,783.1 L676.6,774.9 L678.3,768.4 L680.3,769.4 L682.3,768.4 L685.2,774.4 L686.9,778.1 L688.5,783.1 L690.2,786.3 L691.2,764.4 L693.2,765.9 L695.2,770.4 L698.1,738.7 L701.1,716.8 L703.1,720.8 L704.7,706.7 L706.4,693.7 L708.1,679.1 L711.0,708.9 L714.0,689.0 L716.0,714.8 M720.0,738.7 L722.9,724.8 L724.9,681.1 L727.9,681.1 L730.9,661.3 L732.5,674.1 L734.2,690.1 L735.8,702.9 L738.8,681.1 L740.8,681.1 L743.8,655.3 L745.8,667.0 L747.7,677.1 L748.7,657.3 M752.7,683.1 L755.7,655.3 L758.7,669.2 L761.6,689.0 L763.3,701.8 L765.0,716.8 L767.9,719.8 L769.9,711.9 L771.9,741.7 L774.9,723.8 L776.9,751.6 L779.8,735.7 L781.8,747.6 L784.8,749.6 L787.8,767.5 L790.8,759.5 L792.7,735.7 L795.7,755.6 L797.7,739.7 L799.7,761.5 M803.7,747.6 L806.6,741.7 L809.6,735.7 L811.6,753.6 L813.6,749.5 L815.6,747.6 L817.2,754.6 L818.9,760.3 L820.5,765.5 L822.5,757.8 L824.5,751.6 L827.5,747.6 M832.4,761.5 L834.4,759.4 L836.4,759.5 L839.4,767.5 L842.3,777.4 L844.3,757.5 L847.3,765.5 L850.3,761.5 L853.3,747.6 M856.2,761.5 L858.2,767.4 L860.2,775.4 L861.2,791.3 L863.2,795.6 L865.2,798.7 L867.1,801.2 L870.1,819.0 L872.1,779.4 L875.1,807.1 L878.1,817.1 L881.0,801.2 L884.0,823.0 L886.0,818.3 L888.0,815.1 L890.0,824.0 L891.9,832.9 L894.9,821.0 L896.9,824.8 L898.9,829.0 L900.9,826.4 L902.9,823.0 L905.8,838.9 L907.8,838.8 L909.8,836.9 L912.8,844.8 L914.4,840.3 L916.1,836.8 L917.7,834.9 L920.7,850.8 L922.7,857.8 L924.7,862.7 L926.7,894.4 L929.6,886.5 M932.6,872.6 L934.6,892.5 L936.3,896.0 L937.9,902.8 L939.6,906.3 L941.2,902.5 L942.9,896.4 L944.5,892.5 L946.5,900.4 L948.5,908.3 L951.5,888.5 L953.5,881.4 L955.4,874.6 L958.4,890.5 L961.4,878.6 L964.4,890.5 L967.3,874.6 L970.3,890.5 L972.3,890.9 L974.3,890.5 L977.3,880.6 L980.2,886.5 L982.2,885.4 L984.2,882.5 L986.2,870.6 L987.8,872.1 L989.5,874.5 L991.2,878.6 L994.1,870.6 L997.1,878.6 L999.1,879.6 L1001.1,878.6 L1002.1,912.3 L1004.0,909.1 L1006.0,906.3 L1008.0,913.1 L1010.0,918.3 L1012.0,909.8 L1014.0,904.4 L1016.0,910.2 L1017.9,916.3 L1019.9,913.0 L1021.9,908.3 L1023.9,914.1 L1025.9,922.9 L1027.9,928.2 L1030.8,930.2 L1032.8,920.5 L1034.8,908.3 L1037.8,928.2 L1038.8,940.1 L1041.7,924.2 L1042.7,932.1 M1045.7,954.0 L1047.7,969.8 L1050.7,963.9 L1053.7,926.2 L1055.6,928.1 L1057.6,932.1 L1060.0,930.2 L1061.8,936.9 L1063.5,957.3 L1065.2,957.3 L1067.8,930.1 L1069.9,935.4 L1072.0,938.6 L1073.7,950.4 L1075.4,960.7 L1078.0,947.1 L1080.1,947.2 L1082.2,948.8 L1083.9,952.2 L1085.6,955.6 L1087.7,963.1 L1089.9,970.9 L1091.6,964.5 L1093.3,957.3 L1095.0,956.4 L1096.7,953.9 L1099.2,928.4 L1101.3,915.2 L1103.5,904.6 L1106.0,919.9 L1107.7,929.5 L1109.4,942.0 L1111.1,947.2 L1112.8,950.5 L1114.5,949.1 L1116.2,949.0 L1117.9,947.1 L1119.6,933.5 L1122.2,925.0 L1123.9,922.6 L1125.6,923.3 L1127.3,906.3 L1129.8,909.7 L1131.5,916.3 L1133.2,923.3 L1134.9,922.2 L1136.6,919.9 L1138.3,896.1 L1140.0,894.4 L1141.7,894.4 L1143.7,894.0 L1145.7,892.2 L1147.7,889.3 L1147.7,824.6 L1149.8,824.1 L1151.9,826.3 L1153.6,817.2 L1155.3,811.0 L1157.0,815.4 L1158.7,819.5 L1160.9,825.1 L1163.0,828.0 L1165.5,799.1 L1167.2,814.4 L1168.9,815.8 L1170.6,817.8 L1172.3,802.5 L1174.0,788.9 L1176.6,807.6 L1179.1,792.3 L1180.9,790.4 L1182.6,788.9 M1186.0,804.2 L1188.5,814.4 M1191.9,822.9 L1194.0,830.3 L1196.2,839.9 L1198.3,839.3 L1200.4,836.5 L1202.1,839.9 L1203.8,841.6 L1205.5,807.6 L1207.6,802.6 L1209.8,799.1 L1212.3,812.7 L1214.4,808.5 L1216.6,804.2 L1218.7,818.5 L1220.8,833.1 L1222.9,827.6 L1225.1,821.2 L1227.6,821.2 L1229.7,825.5 L1231.9,828.0 L1234.4,836.5 L1237.0,848.4 L1238.7,843.0 L1240.4,839.9 L1242.9,824.6 L1245.1,823.2 L1247.2,824.6 L1248.9,832.4 L1250.6,838.2 L1252.7,844.8 L1254.8,851.8 L1257.4,848.4 L1259.1,863.7 L1261.6,846.7 L1263.3,852.6 L1265.0,856.9 L1267.0,859.4 L1269.0,864.7 L1271.0,868.8 L1272.7,882.4 L1274.4,888.2 L1276.1,892.7 L1278.6,879.0 L1280.8,877.4 L1282.9,877.3 L1285.4,887.6 L1288.0,879.0 L1290.1,877.0 L1292.2,872.2 L1293.9,877.7 L1295.6,880.7 L1297.3,880.2 L1299.0,882.4 L1300.7,909.7 L1302.9,904.0 L1305.0,901.2 L1306.7,908.0 M1311.8,914.8 L1312.7,933.5 L1314.4,935.8 L1316.1,940.3 L1317.8,939.6 L1319.5,936.9 L1322.0,953.9 L1323.7,950.4 L1325.4,945.4 L1327.1,949.7 L1328.8,955.6 L1331.4,960.7 L1333.1,937.7 L1334.8,914.8 L1336.5,913.8 L1338.2,913.1 L1340.7,894.4 L1342.8,895.7 L1345.0,896.1 L1347.1,902.0 L1349.2,906.3 L1350.9,917.8 L1352.6,931.8 L1355.0,925.0 L1357.7,906.7 L1359.4,906.2 L1361.1,908.4 L1363.6,928.8 L1365.3,923.9 L1367.0,916.9 L1369.6,932.2 L1372.1,920.3 L1373.8,927.8 L1375.5,935.6 L1377.2,934.7 L1378.9,932.2 L1380.6,941.0 L1382.3,952.7 L1384.0,954.2 L1385.7,956.1 L1387.8,960.1 L1390.0,962.9 L1392.1,951.8 L1394.2,942.4 L1395.9,944.4 L1397.6,944.8 L1399.3,944.1 L1401.0,952.7 L1403.1,957.2 L1405.3,964.6 L1407.0,949.5 L1408.7,937.3 L1410.7,938.0 L1412.6,939.8 L1414.6,939.0 L1416.3,941.2 L1418.0,944.1 L1420.6,966.3 L1422.7,968.0 L1424.8,971.4 L1426.5,960.9 L1428.2,951.0 L1429.9,947.8 L1431.6,947.6 L1433.3,955.2 L1435.0,964.6 L1436.7,981.6 L1438.4,987.3 L1440.1,993.5 L1442.7,981.6 L1445.2,986.7 L1446.9,1001.1 L1448.6,1015.6 L1450.3,1019.0 L1452.0,1024.1 L1454.2,1024.1 L1456.3,1025.8 L1458.8,1007.1 L1460.5,1021.5 L1462.2,1037.7 L1463.9,1031.6 L1465.6,1025.8 L1467.3,1031.4 L1469.0,1036.8 L1470.7,1044.5 L1472.9,1030.2 L1475.0,1013.9 L1477.6,1039.4 L1479.3,1038.7 L1481.0,1037.7 L1483.1,1044.1 L1485.2,1049.6 L1487.3,1044.4 L1489.5,1041.1 L1492.0,1027.5 L1494.1,1038.3 L1496.3,1046.2 L1498.4,1036.2 L1500.5,1024.1 L1502.2,1029.7 L1503.9,1037.7 L1506.0,1028.7 L1508.2,1020.7 L1510.7,990.1 L1513.3,990.1 L1515.8,961.2 L1517.9,970.3 L1520.1,978.2 L1521.8,996.9 L1523.9,997.5 L1526.0,996.9 L1528.6,1010.5 L1530.3,1016.9 L1532.0,1020.7 L1533.7,1011.9 L1535.4,1003.7 L1537.1,1008.1 L1538.8,1011.0 L1540.5,1013.9 L1542.2,1026.0 L1543.9,1039.4 L1546.0,1033.7 L1548.1,1027.5 L1549.8,1035.4 L1551.5,1041.1 L1553.2,1048.9 L1554.9,1054.7 L1557.1,1048.8 L1559.2,1042.8 L1560.9,1046.9 L1562.6,1049.0 L1564.3,1053.5 L1566.0,1058.1 L1566.1,1055.1 L1567.2,1066.8 L1569.6,1076.1 L1572.5,1048.2 L1575.4,1042.3 L1577.1,1056.3 L1580.0,1057.5 L1582.9,1071.4 L1584.7,1062.1 L1586.4,1062.4 L1588.2,1061.0 L1588.8,1071.4 L1591.1,1065.6 L1593.4,1040.0 L1595.2,1049.3 L1598.1,1055.1 L1599.8,1063.3 L1601.9,1064.8 L1603.9,1066.8 L1605.1,1074.9 L1608.0,1073.8 L1610.9,1066.8 L1613.8,1066.8 L1615.0,1086.6 L1616.7,1093.6 L1618.5,1092.0 L1620.2,1092.4 L1622.0,1100.6 L1623.7,1099.5 L1625.5,1098.2 L1627.8,1097.1 L1629.8,1105.2 L1631.9,1112.2 M1635.4,1114.5 L1637.4,1122.8 L1639.4,1133.2 L1642.3,1128.5 L1644.7,1119.2 L1647.6,1105.2 L1650.5,1116.9 L1652.8,1114.5 L1655.2,1104.1 L1657.2,1108.0 L1659.2,1109.9 L1661.6,1126.2 L1663.9,1120.4 L1665.6,1125.2 L1667.4,1128.5 L1669.7,1132.0 L1672.0,1140.2 L1674.4,1144.7 L1676.7,1150.6 L1679.6,1132.0 M1683.7,1130.8 L1685.7,1135.6 L1687.8,1142.5 L1690.1,1137.8 L1691.8,1140.0 L1693.6,1140.2 L1694.7,1122.7 L1697.1,1128.7 L1699.4,1133.2 L1701.7,1123.8 L1704.6,1132.0 L1707.0,1097.1 L1709.9,1100.6 L1711.6,1109.9 L1714.5,1108.7 L1716.9,1112.2 L1718.6,1114.4 L1720.4,1118.0 L1722.7,1122.7 L1725.0,1120.9 L1727.4,1119.2 L1729.7,1106.4 L1731.4,1110.3 L1733.2,1114.5 L1734.9,1125.0 L1737.0,1126.0 L1739.0,1126.2 L1740.2,1120.4 L1741.9,1121.2 L1743.7,1119.1 L1745.4,1120.4 L1746.0,1125.0 M1748.3,1132.0 L1750.1,1129.7 L1751.8,1129.7 L1753.6,1150.5 L1755.3,1169.3 L1758.2,1164.6 L1761.1,1169.3 L1762.9,1163.1 L1764.6,1155.3 L1766.9,1159.8 L1769.3,1165.8 L1771.0,1147.1 M1773.4,1137.8 L1776.3,1141.3 M1779.2,1151.8 L1781.5,1153.0 L1783.8,1156.5 L1786.2,1150.6 L1789.1,1143.6 L1790.8,1148.2 L1792.6,1150.6 L1794.3,1152.0 L1796.1,1151.8 L1798.4,1155.1 L1800.7,1159.9 L1802.8,1151.8 L1804.8,1143.6 L1806.8,1145.2 L1808.9,1147.1 L1810.6,1152.8 L1812.4,1157.6 L1814.7,1159.9 L1817.6,1157.6 L1819.9,1151.8 L1821.7,1153.2 L1823.4,1153.0 L1825.2,1139.0 L1826.9,1144.2 L1828.7,1151.8 L1831.0,1151.0 L1833.3,1153.0 L1836.2,1147.1 L1838.3,1156.9 L1840.3,1164.6 L1842.1,1159.7 L1843.8,1155.3 L1845.6,1158.4 L1847.3,1159.9 L1849.6,1149.1 L1852.0,1141.3 L1855.0,1161.1 L1855.1,1156.7 L1856.8,1153.1 L1858.5,1149.9 L1861.1,1158.4 L1863.6,1144.8 L1863.6,1161.8 M1868.7,1139.7 L1871.3,1131.2 L1873.0,1130.1 L1874.7,1131.2 L1877.2,1148.2 L1879.3,1144.1 L1881.5,1138.0 L1883.2,1137.9 L1884.9,1136.3 L1887.4,1149.9 L1889.1,1144.0 L1890.8,1139.7 L1892.5,1146.4 L1894.2,1153.3 L1896.8,1160.1 L1898.9,1142.1 L1901.0,1124.4 L1903.6,1117.6 L1905.3,1131.2 L1907.4,1126.5 L1909.5,1121.0 L1911.2,1132.0 L1912.9,1141.4 L1914.6,1112.4 L1916.8,1111.2 L1918.9,1112.4 L1921.0,1117.8 L1923.1,1126.1 L1925.7,1144.8 M1929.1,1151.6 L1929.9,1156.7 L1931.6,1117.6 L1933.3,1118.2 L1935.0,1121.0 L1937.6,1131.2 L1940.1,1126.1 L1942.7,1138.0 L1944.8,1139.9 L1946.9,1139.7 L1948.6,1163.5 L1950.3,1160.9 L1952.0,1156.7 L1953.7,1170.3 L1955.4,1172.9 L1957.1,1177.1 L1959.7,1200.9 L1961.4,1192.4 L1963.1,1183.9 L1965.2,1193.9 L1967.3,1204.3 L1969.9,1216.2 L1971.6,1212.4 L1973.3,1207.7 L1975.0,1201.8 L1976.7,1194.1 L1978.4,1190.3 L1980.1,1189.0 L1982.7,1168.6 L1984.4,1169.4 L1986.1,1174.1 L1987.8,1175.4 L1989.5,1194.1 L1991.2,1191.0 L1992.9,1189.2 L1994.6,1185.6 L1996.3,1187.5 L1998.0,1192.4 L1999.7,1160.1 L2001.8,1165.9 L2003.9,1172.0 L2006.5,1163.5 M2009.9,1155.0 L2011.6,1149.6 L2013.3,1146.5 L2015.0,1148.1 L2016.7,1148.4 L2018.4,1148.2 L2020.9,1141.4 L2023.5,1149.9 L2025.6,1137.2 L2027.7,1126.1 L2029.4,1126.0 L2031.1,1125.9 L2032.8,1126.1 L2034.9,1134.2 L2037.1,1141.4 L2039.6,1153.3 L2041.8,1157.5 L2043.9,1160.1 M2045.6,1149.9 L2048.1,1138.0 L2049.8,1132.6 L2051.5,1129.5 L2054.1,1146.5 L2056.6,1132.9 L2058.3,1125.4 L2060.0,1116.6 L2061.7,1107.3 L2063.4,1111.1 L2065.1,1116.4 L2066.8,1121.0 L2069.0,1110.6 L2071.1,1100.5 L2072.8,1114.1 L2074.5,1115.2 L2076.2,1116.1 L2077.9,1115.9 L2079.6,1118.0 L2081.3,1121.2 L2083.0,1126.1 L2084.7,1134.6 L2086.8,1133.0 L2088.9,1129.5 L2091.1,1139.5 L2093.2,1149.9 L2095.7,1153.3 L2097.4,1149.0 L2099.1,1141.6 L2100.9,1138.0 L2102.6,1143.7 L2104.3,1149.9 L2106.8,1151.6 M2111.1,1163.5 L2112.8,1164.9 L2114.5,1168.6 L2116.2,1163.7 L2117.9,1156.7 L2118.7,1117.6 L2120.4,1108.1 L2122.1,1097.1 L2124.7,1134.6 L2127.2,1153.3 L2128.9,1109.2 L2130.6,1066.5 L2132.7,1030.8 L2134.9,995.1 L2137.4,1058.0 L2139.5,1047.7 L2141.7,1037.6 L2143.4,1057.6 L2145.1,1076.7 L2147.6,1085.2 L2150.0,1049.5 L2151.9,1047.5 L2153.7,1042.6 L2155.6,1041.0 L2158.7,1064.0 L2161.1,1070.6 L2163.4,1080.0 L2165.7,1075.5 L2168.0,1069.0 L2170.3,1066.3 L2172.7,1064.0 L2173.5,1034.6 L2175.4,1033.8 L2177.4,1031.5 L2179.8,1061.0 L2182.9,1034.6 L2186.0,1050.0 L2187.8,1046.3 L2189.5,1045.3 L2191.2,1043.9 L2193.0,1041.0 L2195.4,1044.0 L2197.7,991.0 L2199.6,996.4 L2201.6,1003.5 L2202.4,1058.0 L2204.4,1047.6 L2206.3,1034.6 L2208.6,1042.4 L2211.7,1037.8 L2214.0,1062.7 L2216.0,1053.8 L2218.0,1042.4 L2219.5,1051.8 L2222.6,1040.9 L2224.2,1061.0 L2226.6,1052.6 L2228.9,1047.0 L2232.0,1053.0 L2233.9,1060.3 L2235.9,1070.5 L2237.9,1065.9 L2239.8,1061.0 L2241.9,1067.6 L2243.9,1071.1 L2246.0,1076.7 L2249.2,1067.0 L2251.5,1046.8 L2253.8,1028.4 L2255.9,1037.0 L2257.9,1044.7 L2260.0,1055.0 L2261.8,1042.2 L2263.7,1030.8 L2265.5,1019.0 L2267.8,1033.8 L2270.2,1048.7 L2271.8,1026.8 L2273.6,1029.1 L2275.4,1032.3 L2277.2,1036.2 L2278.8,1033.3 L2280.4,1031.9 L2282.0,1030.0 L2283.8,1034.0 L2285.6,1037.9 L2287.4,1044.0 L2289.2,1042.4 L2291.0,1039.0 L2292.8,1036.2 L2294.8,1020.3 L2296.7,1003.5 L2299.0,1003.5 M2303.0,1022.0 L2305.3,1011.0 L2307.2,996.8 L2309.2,984.7 L2311.1,998.2 L2313.0,1009.7 L2316.2,975.4 L2318.6,991.0 L2320.9,1005.0 L2324.0,958.0 L2324.8,980.0 L2326.6,979.3 L2328.4,980.0 L2330.2,980.0 L2331.8,990.8 L2333.4,1002.0 L2335.4,992.3 L2337.3,981.6 L2339.2,988.7 L2341.2,994.0 L2343.5,950.4 L2345.3,953.9 L2347.2,958.4 L2349.0,964.5 L2350.9,961.6 L2352.8,956.5 L2354.8,953.6 L2356.7,948.9 L2358.8,947.4 L2360.9,948.7 L2363.0,948.9 L2364.5,945.8 L2366.1,953.6 M2369.2,947.3 L2371.1,918.2 L2373.1,891.2 L2375.5,889.6 L2377.8,903.7 M2381.7,899.0 L2384.1,907.3 L2386.4,917.7 L2388.7,907.8 L2391.0,895.9 L2393.3,880.3 L2395.7,863.1 L2397.8,867.6 L2399.9,873.5 L2402.0,878.7 L2403.0,868.0 M2404.4,839.6 L2406.7,820.9 L2408.6,815.2 L2410.6,811.6 L2411.4,780.4 L2414.5,802.2 L2416.8,763.3 L2418.8,771.3 L2420.7,777.3 L2423.1,739.9 L2425.0,743.8 L2427.0,746.1 L2428.5,713.4 L2430.5,728.2 L2432.4,744.6 L2434.8,727.4 L2437.1,710.3 L2440.2,730.5 L2441.8,719.6 L2444.1,732.1 L2446.1,733.5 L2448.0,735.2 L2450.3,767.9 L2453.5,753.9 L2456.6,771.1 L2458.9,766.4 L2462.0,739.9 L2463.8,747.6 L2465.7,755.3 L2467.5,761.7 L2469.8,750.8 L2472.2,729.0 L2474.5,747.7 L2476.4,738.7 L2478.4,732.1 L2480.0,750.8 L2482.3,764.8 L2484.6,749.2 L2487.0,752.4 M2489.3,747.7 L2490.9,761.7 L2494.0,767.9 L2496.3,797.6 L2499.4,783.5 L2502.6,833.4 L2504.9,822.2 L2507.2,813.1 L2510.4,822.5 L2513.5,830.3 M2516.6,849.0 L2518.1,859.9 L2520.1,851.0 L2522.0,844.3 L2524.4,872.6 L2526.7,898.9 L2529.1,869.3 L2531.1,870.1 L2533.2,868.5 L2535.3,869.3 L2537.6,878.6 L2540.0,888.0 L2542.3,861.5 L2544.3,857.4 L2546.2,853.7 L2547.8,873.9 L2550.9,884.9 L2553.2,887.6 L2555.6,889.5 L2557.9,858.4 L2559.8,860.8 L2561.8,861.5 L2564.9,858.4 L2567.3,844.3 L2569.6,870.8 L2572.7,853.7 L2575.8,869.3 L2578.9,853.7 L2580.5,835.0 L2583.6,842.8 L2585.2,816.3 L2587.1,817.4 L2589.1,820.9 L2592.2,803.8 L2595.0,819.4 L2595.9,820.5 L2597.5,842.4 L2600.6,845.5 L2602.2,817.4 L2605.3,839.3 L2608.4,845.5 L2607.6,879.8 L2609.6,872.2 L2611.5,867.3 L2613.9,854.9 L2615.4,873.6 L2618.5,878.3 L2620.5,872.2 L2622.4,864.2 L2624.4,868.7 L2626.3,873.6 L2627.9,892.3 L2630.2,873.6 L2631.8,893.8 L2634.1,892.3 L2636.5,970.3 L2639.6,945.3 L2641.9,967.1 L2643.9,963.3 L2645.8,957.8 L2648.9,970.3 L2651.3,964.1 L2653.6,960.9 M2656.7,979.6 L2659.1,957.8 L2661.0,942.7 L2663.0,929.7 L2664.9,930.8 L2666.9,929.7 L2670.0,959.4 L2671.9,957.8 L2673.9,954.7 L2677.0,974.9 L2680.1,967.1 L2682.5,1000.1 L2684.6,1005.8 L2686.7,1013.0 L2688.9,1013.0 L2691.1,1013.0 L2692.9,1048.5 L2694.6,1076.8 L2696.4,1062.5 L2698.2,1048.5 L2699.1,1062.7 M2703.5,1083.9 L2705.3,1075.1 L2707.0,1076.6 L2708.8,1080.4 L2711.5,1131.8 L2713.2,1132.8 L2715.0,1131.8 L2717.2,1123.7 L2719.4,1114.1 L2722.1,1153.1 L2724.3,1147.0 L2726.5,1142.4 L2728.3,1159.5 L2730.1,1176.5 L2731.8,1193.8 L2733.6,1218.6 L2735.4,1206.7 L2737.2,1193.8 L2738.9,1146.0 L2741.2,1123.8 L2743.4,1099.9 L2746.0,1085.7 L2746.9,1103.4" fill="none" stroke="#aa4643" stroke-width="4.6" stroke-linejoin="round" stroke-linecap="round"/></g>
<rect x="175" y="1361" width="2573" height="2" fill="#ccd3dc"/>
<rect x="305.5" y="1362" width="2" height="18" fill="#d5dce4"/>
<text stroke="#33393e" stroke-width="0.45" x="306.5" y="1401" font-size="22" fill="#33393e" text-anchor="middle" textLength="81" lengthAdjust="spacingAndGlyphs">2014-01</text>
<rect x="451.2" y="1362" width="2" height="18" fill="#d5dce4"/>
<text stroke="#33393e" stroke-width="0.45" x="452.2" y="1401" font-size="22" fill="#33393e" text-anchor="middle" textLength="81" lengthAdjust="spacingAndGlyphs">2014-07</text>
<rect x="599.4" y="1362" width="2" height="18" fill="#d5dce4"/>
<text stroke="#33393e" stroke-width="0.45" x="600.4" y="1401" font-size="22" fill="#33393e" text-anchor="middle" textLength="81" lengthAdjust="spacingAndGlyphs">2015-01</text>
<rect x="745.1" y="1362" width="2" height="18" fill="#d5dce4"/>
<text stroke="#33393e" stroke-width="0.45" x="746.1" y="1401" font-size="22" fill="#33393e" text-anchor="middle" textLength="81" lengthAdjust="spacingAndGlyphs">2015-07</text>
<rect x="893.3" y="1362" width="2" height="18" fill="#d5dce4"/>
<text stroke="#33393e" stroke-width="0.45" x="894.3" y="1401" font-size="22" fill="#33393e" text-anchor="middle" textLength="81" lengthAdjust="spacingAndGlyphs">2016-01</text>
<rect x="1039.8" y="1362" width="2" height="18" fill="#d5dce4"/>
<text stroke="#33393e" stroke-width="0.45" x="1040.8" y="1401" font-size="22" fill="#33393e" text-anchor="middle" textLength="81" lengthAdjust="spacingAndGlyphs">2016-07</text>
<rect x="1188.0" y="1362" width="2" height="18" fill="#d5dce4"/>
<text stroke="#33393e" stroke-width="0.45" x="1189.0" y="1401" font-size="22" fill="#33393e" text-anchor="middle" textLength="81" lengthAdjust="spacingAndGlyphs">2017-01</text>
<rect x="1333.7" y="1362" width="2" height="18" fill="#d5dce4"/>
<text stroke="#33393e" stroke-width="0.45" x="1334.7" y="1401" font-size="22" fill="#33393e" text-anchor="middle" textLength="81" lengthAdjust="spacingAndGlyphs">2017-07</text>
<rect x="1481.9" y="1362" width="2" height="18" fill="#d5dce4"/>
<text stroke="#33393e" stroke-width="0.45" x="1482.9" y="1401" font-size="22" fill="#33393e" text-anchor="middle" textLength="81" lengthAdjust="spacingAndGlyphs">2018-01</text>
<rect x="1627.6" y="1362" width="2" height="18" fill="#d5dce4"/>
<text stroke="#33393e" stroke-width="0.45" x="1628.6" y="1401" font-size="22" fill="#33393e" text-anchor="middle" textLength="81" lengthAdjust="spacingAndGlyphs">2018-07</text>
<rect x="1775.7" y="1362" width="2" height="18" fill="#d5dce4"/>
<text stroke="#33393e" stroke-width="0.45" x="1776.7" y="1401" font-size="22" fill="#33393e" text-anchor="middle" textLength="81" lengthAdjust="spacingAndGlyphs">2019-01</text>
<rect x="1921.5" y="1362" width="2" height="18" fill="#d5dce4"/>
<text stroke="#33393e" stroke-width="0.45" x="1922.5" y="1401" font-size="22" fill="#33393e" text-anchor="middle" textLength="81" lengthAdjust="spacingAndGlyphs">2019-07</text>
<rect x="2069.6" y="1362" width="2" height="18" fill="#d5dce4"/>
<text stroke="#33393e" stroke-width="0.45" x="2070.6" y="1401" font-size="22" fill="#33393e" text-anchor="middle" textLength="81" lengthAdjust="spacingAndGlyphs">2020-01</text>
<rect x="2216.2" y="1362" width="2" height="18" fill="#d5dce4"/>
<text stroke="#33393e" stroke-width="0.45" x="2217.2" y="1401" font-size="22" fill="#33393e" text-anchor="middle" textLength="81" lengthAdjust="spacingAndGlyphs">2020-07</text>
<rect x="2364.3" y="1362" width="2" height="18" fill="#d5dce4"/>
<text stroke="#33393e" stroke-width="0.45" x="2365.3" y="1401" font-size="22" fill="#33393e" text-anchor="middle" textLength="81" lengthAdjust="spacingAndGlyphs">2021-01</text>
<rect x="2510.1" y="1362" width="2" height="18" fill="#d5dce4"/>
<text stroke="#33393e" stroke-width="0.45" x="2511.1" y="1401" font-size="22" fill="#33393e" text-anchor="middle" textLength="81" lengthAdjust="spacingAndGlyphs">2021-07</text>
<rect x="2658.2" y="1362" width="2" height="18" fill="#d5dce4"/>
<text stroke="#33393e" stroke-width="0.45" x="2659.2" y="1401" font-size="22" fill="#33393e" text-anchor="middle" textLength="81" lengthAdjust="spacingAndGlyphs">2022-01</text>
<text stroke="#33393e" stroke-width="0.45" x="145.5" y="122.4" font-size="22" fill="#33393e" text-anchor="end" textLength="56" lengthAdjust="spacingAndGlyphs">4,800</text>
<text stroke="#33393e" stroke-width="0.45" x="145.5" y="276.7" font-size="22" fill="#33393e" text-anchor="end" textLength="56" lengthAdjust="spacingAndGlyphs">4,400</text>
<text stroke="#33393e" stroke-width="0.45" x="145.5" y="432.7" font-size="22" fill="#33393e" text-anchor="end" textLength="56" lengthAdjust="spacingAndGlyphs">4,000</text>
<text stroke="#33393e" stroke-width="0.45" x="145.5" y="588.7" font-size="22" fill="#33393e" text-anchor="end" textLength="56" lengthAdjust="spacingAndGlyphs">3,600</text>
<text stroke="#33393e" stroke-width="0.45" x="145.5" y="744.7" font-size="22" fill="#33393e" text-anchor="end" textLength="56" lengthAdjust="spacingAndGlyphs">3,200</text>
<text stroke="#33393e" stroke-width="0.45" x="145.5" y="900.7" font-size="22" fill="#33393e" text-anchor="end" textLength="56" lengthAdjust="spacingAndGlyphs">2,800</text>
<text stroke="#33393e" stroke-width="0.45" x="145.5" y="1056.7" font-size="22" fill="#33393e" text-anchor="end" textLength="56" lengthAdjust="spacingAndGlyphs">2,400</text>
<text stroke="#33393e" stroke-width="0.45" x="145.5" y="1212.7" font-size="22" fill="#33393e" text-anchor="end" textLength="56" lengthAdjust="spacingAndGlyphs">2,000</text>
<text stroke="#33393e" stroke-width="0.45" x="145.5" y="1368.7" font-size="22" fill="#33393e" text-anchor="end" textLength="56" lengthAdjust="spacingAndGlyphs">1,600</text>
<text stroke="#33393e" stroke-width="0.45" x="2778" y="122.4" font-size="22" fill="#33393e" textLength="30" lengthAdjust="spacingAndGlyphs">3.5</text>
<text stroke="#33393e" stroke-width="0.45" x="2778" y="276.7" font-size="22" fill="#33393e" textLength="30" lengthAdjust="spacingAndGlyphs">3.0</text>
<text stroke="#33393e" stroke-width="0.45" x="2778" y="432.7" font-size="22" fill="#33393e" textLength="30" lengthAdjust="spacingAndGlyphs">2.5</text>
<text stroke="#33393e" stroke-width="0.45" x="2778" y="588.7" font-size="22" fill="#33393e" textLength="30" lengthAdjust="spacingAndGlyphs">2.0</text>
<text stroke="#33393e" stroke-width="0.45" x="2778" y="744.7" font-size="22" fill="#33393e" textLength="30" lengthAdjust="spacingAndGlyphs">1.5</text>
<text stroke="#33393e" stroke-width="0.45" x="2778" y="900.7" font-size="22" fill="#33393e" textLength="30" lengthAdjust="spacingAndGlyphs">1.0</text>
<text stroke="#33393e" stroke-width="0.45" x="2778" y="1056.7" font-size="22" fill="#33393e" textLength="30" lengthAdjust="spacingAndGlyphs">0.5</text>
<text stroke="#33393e" stroke-width="0.45" x="2778" y="1212.7" font-size="22" fill="#33393e" textLength="30" lengthAdjust="spacingAndGlyphs">0.0</text>
<text stroke="#33393e" stroke-width="0.45" x="2777.5" y="1368.7" font-size="22" fill="#33393e" textLength="37" lengthAdjust="spacingAndGlyphs">-0.5</text>
<text stroke="#33393e" stroke-width="0.45" transform="translate(49,767) rotate(-90)" font-size="24" fill="#33393e" textLength="60" lengthAdjust="spacingAndGlyphs">Index</text>
<text stroke="#33393e" stroke-width="0.45" transform="translate(2815,694) rotate(90)" font-size="24" fill="#33393e" textLength="70" lengthAdjust="spacingAndGlyphs">Percent</text>
<rect x="242" y="27.2" width="32" height="3.4" fill="#4572a7"/>
<rect x="242" y="61.3" width="32" height="3.4" fill="#aa4643"/>
<text stroke="#33393e" stroke-width="0.45" x="284.5" y="39" font-size="25.5" fill="#33393e" textLength="148" lengthAdjust="spacingAndGlyphs">S&amp;P 500 (left)</text>
<text stroke="#33393e" stroke-width="0.45" x="284.5" y="73" font-size="25.5" fill="#33393e" textLength="933" lengthAdjust="spacingAndGlyphs">10-Year Treasury Constant Maturity Minus 2-Year Treasury Constant Maturity (right)</text>
<g fill="#231f20">
<path d="M16.6,10.9 H49.9 V19.9 H28.2 V27.1 H48 V35.7 H28.2 V50.2 H16.6 Z"/>
<path fill-rule="evenodd" d="M53.2,10.9 H77 C86,10.9 90.4,16.5 90.4,24.3 C90.4,30.5 87.2,34.8 81.6,36.8 L91.8,50.2 H77.6 L68.6,38.3 H64.5 V50.2 H53.2 Z M64.5,19.9 V29.8 H75.8 C78.6,29.8 79.8,27.8 79.8,24.8 C79.8,21.8 78.4,19.9 75.6,19.9 Z"/>
<path d="M94.2,10.9 H127.2 V19.9 H105 V26.1 H125.2 V35 H105 V41.2 H127.4 V50.2 H94.2 Z"/>
<path fill-rule="evenodd" d="M131.5,10.9 H149.5 C162.5,10.9 171.2,19 171.2,30.5 C171.2,42 162.5,50.2 149.5,50.2 H131.5 Z M142.3,19.9 V41.2 H148.5 C155.2,41.2 159.6,37 159.6,30.5 C159.6,24 155.2,19.9 148.5,19.9 Z"/>
</g>
<circle cx="169.6" cy="47.6" r="2.7" fill="none" stroke="#6a6a6a" stroke-width="0.8"/><circle cx="169.6" cy="47.6" r="1.3" fill="#4a4a4a"/>
<defs>
<linearGradient id="icg" x1="0" y1="0" x2="1" y2="1">
<stop offset="0" stop-color="#ffffff"/>
<stop offset="0.5" stop-color="#e4e6ea"/>
<stop offset="1" stop-color="#c4cad3"/>
</linearGradient>
</defs>
<rect x="180.7" y="10.7" width="42.9" height="38.7" rx="3" fill="url(#icg)"/>
<polyline points="180.7,37.7 187.9,29.8 195.4,36.3 205.4,22.6 212.2,26.3 222.4,13.0" fill="none" stroke="#5b7a8c" stroke-width="2.4" stroke-linejoin="miter"/>
<polyline points="180.9,43.5 190,39.1 196.5,43.3 205.9,36.8 212.6,40.1 222.9,24.9" fill="none" stroke="#6d9440" stroke-width="2.4" stroke-linejoin="miter"/>

<rect x="175" y="1429" width="2573" height="2" fill="#c9d0d8"/>
<path d="M2184.0,1478.5 L2184.0,1474.0 L2190.0,1474.4 L2196.0,1475.3 L2202.0,1474.5 L2212.0,1473.4 L2220.0,1474.4 L2228.0,1473.3 L2238.0,1472.2 L2248.0,1470.9 L2254.0,1471.7 L2258.0,1470.5 L2260.0,1470.4 L2262.0,1470.6 L2264.0,1471.0 L2266.0,1470.8 L2268.0,1470.2 L2270.0,1470.5 L2272.0,1470.0 L2274.0,1469.6 L2276.0,1469.4 L2278.0,1469.1 L2280.0,1469.3 L2282.0,1469.0 L2284.0,1468.7 L2286.0,1468.8 L2288.0,1469.5 L2290.0,1468.9 L2292.0,1468.6 L2294.0,1468.4 L2296.0,1468.4 L2298.0,1468.5 L2300.0,1468.4 L2302.0,1468.3 L2304.0,1468.1 L2306.0,1467.9 L2308.0,1467.4 L2310.0,1467.2 L2312.0,1467.1 L2314.0,1467.0 L2316.0,1467.5 L2318.0,1467.4 L2320.0,1466.7 L2322.0,1466.8 L2324.0,1466.8 L2326.0,1467.2 L2328.0,1467.8 L2330.0,1466.7 L2332.0,1466.2 L2334.0,1465.9 L2336.0,1466.3 L2338.0,1465.8 L2340.0,1466.2 L2342.0,1466.4 L2344.0,1466.3 L2346.0,1465.8 L2348.0,1465.3 L2350.0,1466.0 L2352.0,1465.8 L2354.0,1465.7 L2356.0,1465.5 L2358.0,1465.5 L2360.0,1465.2 L2362.0,1465.3 L2364.0,1465.7 L2366.0,1465.6 L2368.0,1466.0 L2370.0,1465.4 L2372.0,1465.7 L2374.0,1465.6 L2376.0,1467.3 L2378.0,1467.2 L2380.0,1467.5 L2382.0,1467.1 L2384.0,1466.4 L2386.0,1465.6 L2388.0,1465.9 L2390.0,1465.8 L2392.0,1466.1 L2394.0,1466.2 L2396.0,1466.8 L2398.0,1468.0 L2400.0,1467.8 L2402.0,1468.2 L2404.0,1467.4 L2406.0,1466.7 L2408.0,1466.2 L2410.0,1466.0 L2412.0,1465.8 L2414.0,1465.8 L2416.0,1466.0 L2418.0,1465.8 L2420.0,1465.2 L2422.0,1466.0 L2424.0,1465.4 L2426.0,1464.6 L2428.0,1464.7 L2430.0,1464.6 L2432.0,1464.6 L2434.0,1464.8 L2436.0,1464.9 L2438.0,1464.8 L2440.0,1465.1 L2442.0,1465.3 L2444.0,1464.6 L2446.0,1464.3 L2448.0,1463.8 L2450.0,1463.5 L2452.0,1463.6 L2454.0,1463.5 L2456.0,1463.2 L2458.0,1462.8 L2460.0,1462.2 L2462.0,1462.2 L2464.0,1462.7 L2466.0,1462.4 L2468.0,1462.7 L2470.0,1462.0 L2472.0,1462.1 L2474.0,1461.6 L2476.0,1461.5 L2478.0,1461.5 L2480.0,1461.6 L2482.0,1461.1 L2484.0,1461.0 L2486.0,1461.3 L2488.0,1461.2 L2490.0,1460.9 L2492.0,1460.7 L2494.0,1460.1 L2496.0,1459.9 L2498.0,1459.9 L2500.0,1459.6 L2502.0,1459.3 L2504.0,1458.9 L2506.0,1458.5 L2508.0,1458.0 L2510.0,1457.2 L2512.0,1456.6 L2514.0,1458.5 L2516.0,1458.1 L2518.0,1457.4 L2520.0,1458.9 L2522.0,1459.3 L2524.0,1458.7 L2526.0,1458.8 L2528.0,1458.1 L2530.0,1458.1 L2532.0,1457.2 L2534.0,1457.9 L2536.0,1457.6 L2538.0,1456.9 L2540.0,1456.8 L2542.0,1456.9 L2544.0,1456.0 L2546.0,1456.0 L2548.0,1455.6 L2550.0,1455.8 L2552.0,1457.5 L2554.0,1458.6 L2556.0,1457.7 L2558.0,1458.5 L2560.0,1458.3 L2562.0,1461.2 L2564.0,1460.7 L2566.0,1459.2 L2568.0,1458.3 L2570.0,1457.8 L2572.0,1457.2 L2574.0,1457.3 L2576.0,1456.8 L2578.0,1456.2 L2580.0,1455.7 L2582.0,1455.4 L2584.0,1456.6 L2586.0,1457.1 L2588.0,1456.1 L2590.0,1455.5 L2592.0,1454.9 L2594.0,1454.8 L2596.0,1455.2 L2598.0,1455.8 L2600.0,1456.1 L2602.0,1455.0 L2604.0,1454.8 L2606.0,1455.6 L2608.0,1454.7 L2610.0,1454.1 L2612.0,1453.4 L2614.0,1453.3 L2616.0,1452.8 L2618.0,1452.0 L2620.0,1451.8 L2622.0,1450.9 L2624.0,1451.3 L2626.0,1450.3 L2628.0,1452.0 L2630.0,1456.7 L2632.0,1461.4 L2634.0,1459.1 L2636.0,1457.1 L2638.0,1456.1 L2640.0,1456.1 L2642.0,1454.5 L2644.0,1453.3 L2646.0,1453.8 L2648.0,1453.0 L2650.0,1452.0 L2652.0,1451.4 L2654.0,1450.3 L2656.0,1449.1 L2658.0,1449.7 L2660.0,1450.9 L2662.0,1450.1 L2664.0,1448.8 L2666.0,1450.2 L2668.0,1447.5 L2670.0,1447.3 L2672.0,1446.5 L2674.0,1446.2 L2676.0,1445.6 L2678.0,1444.9 L2680.0,1445.2 L2682.0,1443.6 L2684.0,1444.2 L2686.0,1444.3 L2688.0,1443.5 L2690.0,1442.1 L2692.0,1440.7 L2694.0,1440.2 L2696.0,1441.0 L2698.0,1440.2 L2700.0,1439.9 L2702.0,1439.9 L2704.0,1438.7 L2706.0,1438.7 L2708.0,1437.6 L2710.0,1437.2 L2712.0,1436.6 L2714.0,1436.6 L2716.0,1437.7 L2718.0,1438.6 L2720.0,1436.9 L2722.0,1435.2 L2724.0,1434.4 L2726.0,1435.0 L2728.0,1434.8 L2730.0,1434.3 L2732.0,1433.5 L2734.0,1435.3 L2736.0,1437.1 L2738.0,1437.1 L2740.0,1438.7 L2742.0,1440.1 L2744.0,1436.4 L2746.0,1436.1 L2748.0,1437.5 L2748.0,1478.5 Z" fill="#4572a7" fill-opacity="0.5" stroke="none"/>
<path d="M2184.0,1474.0 L2190.0,1474.4 L2196.0,1475.3 L2202.0,1474.5 L2212.0,1473.4 L2220.0,1474.4 L2228.0,1473.3 L2238.0,1472.2 L2248.0,1470.9 L2254.0,1471.7 L2258.0,1470.5 L2260.0,1470.4 L2262.0,1470.6 L2264.0,1471.0 L2266.0,1470.8 L2268.0,1470.2 L2270.0,1470.5 L2272.0,1470.0 L2274.0,1469.6 L2276.0,1469.4 L2278.0,1469.1 L2280.0,1469.3 L2282.0,1469.0 L2284.0,1468.7 L2286.0,1468.8 L2288.0,1469.5 L2290.0,1468.9 L2292.0,1468.6 L2294.0,1468.4 L2296.0,1468.4 L2298.0,1468.5 L2300.0,1468.4 L2302.0,1468.3 L2304.0,1468.1 L2306.0,1467.9 L2308.0,1467.4 L2310.0,1467.2 L2312.0,1467.1 L2314.0,1467.0 L2316.0,1467.5 L2318.0,1467.4 L2320.0,1466.7 L2322.0,1466.8 L2324.0,1466.8 L2326.0,1467.2 L2328.0,1467.8 L2330.0,1466.7 L2332.0,1466.2 L2334.0,1465.9 L2336.0,1466.3 L2338.0,1465.8 L2340.0,1466.2 L2342.0,1466.4 L2344.0,1466.3 L2346.0,1465.8 L2348.0,1465.3 L2350.0,1466.0 L2352.0,1465.8 L2354.0,1465.7 L2356.0,1465.5 L2358.0,1465.5 L2360.0,1465.2 L2362.0,1465.3 L2364.0,1465.7 L2366.0,1465.6 L2368.0,1466.0 L2370.0,1465.4 L2372.0,1465.7 L2374.0,1465.6 L2376.0,1467.3 L2378.0,1467.2 L2380.0,1467.5 L2382.0,1467.1 L2384.0,1466.4 L2386.0,1465.6 L2388.0,1465.9 L2390.0,1465.8 L2392.0,1466.1 L2394.0,1466.2 L2396.0,1466.8 L2398.0,1468.0 L2400.0,1467.8 L2402.0,1468.2 L2404.0,1467.4 L2406.0,1466.7 L2408.0,1466.2 L2410.0,1466.0 L2412.0,1465.8 L2414.0,1465.8 L2416.0,1466.0 L2418.0,1465.8 L2420.0,1465.2 L2422.0,1466.0 L2424.0,1465.4 L2426.0,1464.6 L2428.0,1464.7 L2430.0,1464.6 L2432.0,1464.6 L2434.0,1464.8 L2436.0,1464.9 L2438.0,1464.8 L2440.0,1465.1 L2442.0,1465.3 L2444.0,1464.6 L2446.0,1464.3 L2448.0,1463.8 L2450.0,1463.5 L2452.0,1463.6 L2454.0,1463.5 L2456.0,1463.2 L2458.0,1462.8 L2460.0,1462.2 L2462.0,1462.2 L2464.0,1462.7 L2466.0,1462.4 L2468.0,1462.7 L2470.0,1462.0 L2472.0,1462.1 L2474.0,1461.6 L2476.0,1461.5 L2478.0,1461.5 L2480.0,1461.6 L2482.0,1461.1 L2484.0,1461.0 L2486.0,1461.3 L2488.0,1461.2 L2490.0,1460.9 L2492.0,1460.7 L2494.0,1460.1 L2496.0,1459.9 L2498.0,1459.9 L2500.0,1459.6 L2502.0,1459.3 L2504.0,1458.9 L2506.0,1458.5 L2508.0,1458.0 L2510.0,1457.2 L2512.0,1456.6 L2514.0,1458.5 L2516.0,1458.1 L2518.0,1457.4 L2520.0,1458.9 L2522.0,1459.3 L2524.0,1458.7 L2526.0,1458.8 L2528.0,1458.1 L2530.0,1458.1 L2532.0,1457.2 L2534.0,1457.9 L2536.0,1457.6 L2538.0,1456.9 L2540.0,1456.8 L2542.0,1456.9 L2544.0,1456.0 L2546.0,1456.0 L2548.0,1455.6 L2550.0,1455.8 L2552.0,1457.5 L2554.0,1458.6 L2556.0,1457.7 L2558.0,1458.5 L2560.0,1458.3 L2562.0,1461.2 L2564.0,1460.7 L2566.0,1459.2 L2568.0,1458.3 L2570.0,1457.8 L2572.0,1457.2 L2574.0,1457.3 L2576.0,1456.8 L2578.0,1456.2 L2580.0,1455.7 L2582.0,1455.4 L2584.0,1456.6 L2586.0,1457.1 L2588.0,1456.1 L2590.0,1455.5 L2592.0,1454.9 L2594.0,1454.8 L2596.0,1455.2 L2598.0,1455.8 L2600.0,1456.1 L2602.0,1455.0 L2604.0,1454.8 L2606.0,1455.6 L2608.0,1454.7 L2610.0,1454.1 L2612.0,1453.4 L2614.0,1453.3 L2616.0,1452.8 L2618.0,1452.0 L2620.0,1451.8 L2622.0,1450.9 L2624.0,1451.3 L2626.0,1450.3 L2628.0,1452.0 L2630.0,1456.7 L2632.0,1461.4 L2634.0,1459.1 L2636.0,1457.1 L2638.0,1456.1 L2640.0,1456.1 L2642.0,1454.5 L2644.0,1453.3 L2646.0,1453.8 L2648.0,1453.0 L2650.0,1452.0 L2652.0,1451.4 L2654.0,1450.3 L2656.0,1449.1 L2658.0,1449.7 L2660.0,1450.9 L2662.0,1450.1 L2664.0,1448.8 L2666.0,1450.2 L2668.0,1447.5 L2670.0,1447.3 L2672.0,1446.5 L2674.0,1446.2 L2676.0,1445.6 L2678.0,1444.9 L2680.0,1445.2 L2682.0,1443.6 L2684.0,1444.2 L2686.0,1444.3 L2688.0,1443.5 L2690.0,1442.1 L2692.0,1440.7 L2694.0,1440.2 L2696.0,1441.0 L2698.0,1440.2 L2700.0,1439.9 L2702.0,1439.9 L2704.0,1438.7 L2706.0,1438.7 L2708.0,1437.6 L2710.0,1437.2 L2712.0,1436.6 L2714.0,1436.6 L2716.0,1437.7 L2718.0,1438.6 L2720.0,1436.9 L2722.0,1435.2 L2724.0,1434.4 L2726.0,1435.0 L2728.0,1434.8 L2730.0,1434.3 L2732.0,1433.5 L2734.0,1435.3 L2736.0,1437.1 L2738.0,1437.1 L2740.0,1438.7 L2742.0,1440.1 L2744.0,1436.4 L2746.0,1436.1 L2748.0,1437.5" fill="none" stroke="#3f6a9c" stroke-width="2"/>
<text stroke="#8e959b" stroke-width="0.45" x="408.3" y="1471" font-size="22" fill="#8e959b" text-anchor="middle" textLength="49" lengthAdjust="spacingAndGlyphs">1980</text>
<text stroke="#8e959b" stroke-width="0.45" x="688.4" y="1471" font-size="22" fill="#8e959b" text-anchor="middle" textLength="49" lengthAdjust="spacingAndGlyphs">1985</text>
<text stroke="#8e959b" stroke-width="0.45" x="968.5" y="1471" font-size="22" fill="#8e959b" text-anchor="middle" textLength="49" lengthAdjust="spacingAndGlyphs">1990</text>
<text stroke="#8e959b" stroke-width="0.45" x="1248.6" y="1471" font-size="22" fill="#8e959b" text-anchor="middle" textLength="49" lengthAdjust="spacingAndGlyphs">1995</text>
<text stroke="#8e959b" stroke-width="0.45" x="1528.7" y="1471" font-size="22" fill="#8e959b" text-anchor="middle" textLength="49" lengthAdjust="spacingAndGlyphs">2000</text>
<text stroke="#8e959b" stroke-width="0.45" x="1808.8" y="1471" font-size="22" fill="#8e959b" text-anchor="middle" textLength="49" lengthAdjust="spacingAndGlyphs">2005</text>
<text stroke="#8e959b" stroke-width="0.45" x="2088.9" y="1471" font-size="22" fill="#8e959b" text-anchor="middle" textLength="49" lengthAdjust="spacingAndGlyphs">2010</text>
<text stroke="#8e959b" stroke-width="0.45" x="2369.0" y="1471" font-size="22" fill="#8e959b" text-anchor="middle" textLength="49" lengthAdjust="spacingAndGlyphs">2015</text>
<text stroke="#8e959b" stroke-width="0.45" x="2649.1" y="1471" font-size="22" fill="#8e959b" text-anchor="middle" textLength="49" lengthAdjust="spacingAndGlyphs">2020</text>
<rect x="2257.5" y="1430" width="490" height="48.5" fill="#6685c2" fill-opacity="0.3"/>
<rect x="2249.7" y="1440.7" width="14" height="28" fill="#ffffff" stroke="#979797" stroke-width="2.2"/>
<rect x="2254.0" y="1447" width="2" height="15.7" fill="#979797"/>
<rect x="2258.0" y="1447" width="2" height="15.7" fill="#979797"/>
<rect x="2740.5" y="1440.7" width="14" height="28" fill="#ffffff" stroke="#979797" stroke-width="2.2"/>
<rect x="2744.8" y="1447" width="2" height="15.7" fill="#979797"/>
<rect x="2748.8" y="1447" width="2" height="15.7" fill="#979797"/>
<text x="43" y="1536" font-size="24.2" font-style="italic" fill="#3a5b8e" stroke="none" textLength="426" lengthAdjust="spacingAndGlyphs">Shaded areas indicate U.S. recessions.</text>
<text stroke="#33393e" stroke-width="0.45" x="1276" y="1537" font-size="25" fill="#33393e" textLength="335" lengthAdjust="spacingAndGlyphs">Sources: S&amp;P DJI; St. Louis Fed</text>
<text stroke="#33393e" stroke-width="0.45" x="2191" y="1537" font-size="25" fill="#33393e" textLength="172" lengthAdjust="spacingAndGlyphs">myf.red/g/kB6V</text>
</svg></div></body></html>
